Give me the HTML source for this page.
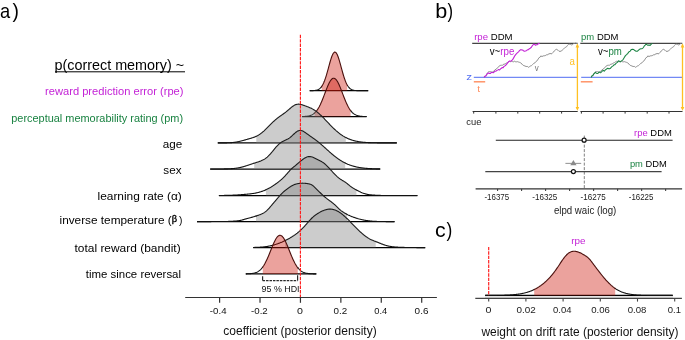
<!DOCTYPE html>
<html><head><meta charset="utf-8"><style>
html,body{margin:0;padding:0;background:#fff;}
svg{display:block;will-change:transform;}
text{font-family:"Liberation Sans", sans-serif;}
</style></head><body>
<svg width="685" height="340" viewBox="0 0 685 340">
<rect width="685" height="340" fill="#fff"/>
<text transform="translate(-0.07 17.5) scale(0.9053 1)" font-size="20.2" fill="#000" >a</text>
<text transform="translate(12.38 17.5) scale(0.9527 1)" font-size="20.2" fill="#000" >)</text>
<text transform="translate(54.47 69.7) scale(1.0378 1)" font-size="13.85" fill="#000" >p(correct memory) ~</text>
<line x1="55" y1="71.8" x2="185" y2="71.8" stroke="#000" stroke-width="1"/>
<text transform="translate(45.07 95) scale(0.9567 1)" font-size="11.64" fill="#c322d6" >reward prediction error (rpe)</text>
<text transform="translate(11.29 121.6) scale(0.9390 1)" font-size="11.64" fill="#198241" >perceptual memorability rating (pm)</text>
<text transform="translate(162.81 147.5) scale(1.0047 1)" font-size="11.64" fill="#000" >age</text>
<text transform="translate(163.37 173.6) scale(1.0025 1)" font-size="11.64" fill="#000" >sex</text>
<text transform="translate(97.5 200.1) scale(1.0245 1)" font-size="11.64" fill="#000" >learning rate (α)</text>
<text transform="translate(59.51 224.4) scale(1.0140 1)" font-size="11.64" fill="#000" >inverse temperature (</text>
<text transform="translate(171.66 222.2) scale(1.0902 1)" font-size="8.45" fill="#000" stroke="#000" stroke-width="0.35">β</text>
<text transform="translate(179.04 224.4) scale(0.8754 1)" font-size="11.64" fill="#000" >)</text>
<text transform="translate(74.52 252) scale(1.0262 1)" font-size="11.64" fill="#000" >total reward (bandit)</text>
<text transform="translate(85.83 278.1) scale(0.9826 1)" font-size="11.64" fill="#000" >time since reversal</text>
<path d="M309.7 90.7 H368.2" fill="none" stroke="#000" stroke-width="1.25"/>
<path d="M321.7 90.7 L321.7 86.4 L322.2 85.64 L322.7 84.78 L323.2 83.82 L323.7 82.75 L324.2 81.58 L324.7 80.29 L325.2 78.9 L325.7 77.41 L326.2 75.82 L326.7 74.15 L327.2 72.41 L327.7 70.61 L328.2 68.77 L328.7 66.92 L329.2 65.07 L329.7 63.24 L330.2 61.48 L330.7 59.79 L331.2 58.21 L331.7 56.77 L332.2 55.49 L332.7 54.38 L333.2 53.48 L333.7 52.79 L334.2 52.34 L334.7 52.12 L335.2 52.14 L335.7 52.41 L336.2 52.91 L336.7 53.64 L337.2 54.59 L337.7 55.73 L338.2 57.05 L338.7 58.52 L339.2 60.12 L339.7 61.82 L340.2 63.6 L340.7 65.43 L341.2 67.29 L341.7 69.14 L342.2 70.97 L342.7 72.76 L343.2 74.49 L343.7 76.15 L344.2 77.72 L344.7 79.19 L345.2 80.56 L345.7 81.82 L346.2 82.97 L346.7 84.02 L347.2 84.96 L347.2 90.7 Z" fill="rgb(206,22,10)" fill-opacity="0.4" stroke="none"/>
<path d="M309.7 90.69 L310.2 90.68 L310.7 90.68 L311.2 90.67 L311.7 90.66 L312.2 90.64 L312.7 90.62 L313.2 90.6 L313.7 90.57 L314.2 90.53 L314.7 90.47 L315.2 90.41 L315.7 90.33 L316.2 90.23 L316.7 90.11 L317.2 89.95 L317.7 89.77 L318.2 89.55 L318.7 89.28 L319.2 88.97 L319.7 88.6 L320.2 88.16 L320.7 87.66 L321.2 87.07 L321.7 86.4" fill="none" stroke="#111" stroke-width="1.1" stroke-linejoin="round"/>
<path d="M347.2 84.96 L347.7 85.8 L348.2 86.54 L348.7 87.2 L349.2 87.76 L349.7 88.26 L350.2 88.68 L350.7 89.04 L351.2 89.34 L351.7 89.6 L352.2 89.81 L352.7 89.99 L353.2 90.13 L353.7 90.25 L354.2 90.35 L354.7 90.42 L355.2 90.49 L355.7 90.53 L356.2 90.57 L356.7 90.6 L357.2 90.63 L357.7 90.64 L358.2 90.66 L358.7 90.67 L359.2 90.68 L359.7 90.68 L360.2 90.69 L360.7 90.69 L361.2 90.69 L361.7 90.7 L362.2 90.7 L362.7 90.7 L363.2 90.7 L363.7 90.7 L364.2 90.7 L364.7 90.7 L365.2 90.7 L365.7 90.7 L366.2 90.7 L366.7 90.7 L367.2 90.7 L367.7 90.7 L368.2 90.7" fill="none" stroke="#111" stroke-width="1.1" stroke-linejoin="round"/>
<path d="M321.2 87.07 L321.7 86.4 L322.2 85.64 L322.7 84.78 L323.2 83.82 L323.7 82.75 L324.2 81.58 L324.7 80.29 L325.2 78.9 L325.7 77.41 L326.2 75.82 L326.7 74.15 L327.2 72.41 L327.7 70.61 L328.2 68.77 L328.7 66.92 L329.2 65.07 L329.7 63.24 L330.2 61.48 L330.7 59.79 L331.2 58.21 L331.7 56.77 L332.2 55.49 L332.7 54.38 L333.2 53.48 L333.7 52.79 L334.2 52.34 L334.7 52.12 L335.2 52.14 L335.7 52.41 L336.2 52.91 L336.7 53.64 L337.2 54.59 L337.7 55.73 L338.2 57.05 L338.7 58.52 L339.2 60.12 L339.7 61.82 L340.2 63.6 L340.7 65.43 L341.2 67.29 L341.7 69.14 L342.2 70.97 L342.7 72.76 L343.2 74.49 L343.7 76.15 L344.2 77.72 L344.7 79.19 L345.2 80.56 L345.7 81.82 L346.2 82.97 L346.7 84.02 L347.2 84.96 L347.7 85.8" fill="none" stroke="#4a0f0c" stroke-width="1.1" stroke-linejoin="round"/>
<path d="M302.1 116.6 H366.6" fill="none" stroke="#000" stroke-width="1.25"/>
<path d="M314.6 116.6 L314.6 112.96 L315.1 112.49 L315.6 111.97 L316.1 111.4 L316.6 110.79 L317.1 110.12 L317.6 109.4 L318.1 108.62 L318.6 107.79 L319.1 106.9 L319.6 105.96 L320.1 104.97 L320.6 103.92 L321.1 102.82 L321.6 101.68 L322.1 100.49 L322.6 99.27 L323.1 98.01 L323.6 96.73 L324.1 95.42 L324.6 94.1 L325.1 92.78 L325.6 91.46 L326.1 90.15 L326.6 88.87 L327.1 87.61 L327.6 86.4 L328.1 85.24 L328.6 84.14 L329.1 83.1 L329.6 82.15 L330.1 81.28 L330.6 80.51 L331.1 79.84 L331.6 79.28 L332.1 78.83 L332.6 78.5 L333.1 78.29 L333.6 78.2 L334.1 78.24 L334.6 78.4 L335.1 78.68 L335.6 79.08 L336.1 79.6 L336.6 80.23 L337.1 80.96 L337.6 81.79 L338.1 82.71 L338.6 83.71 L339.1 84.79 L339.6 85.93 L340.1 87.12 L340.6 88.36 L341.1 89.64 L341.6 90.94 L342.1 92.25 L342.6 93.57 L343.1 94.89 L343.6 96.21 L344.1 97.5 L344.6 98.77 L345.1 100.01 L345.6 101.21 L346.1 102.37 L346.6 103.49 L347.1 104.55 L347.6 105.57 L348.1 106.53 L348.6 107.44 L349.1 108.3 L349.6 109.09 L350.1 109.84 L350.6 110.53 L350.6 116.6 Z" fill="rgb(206,22,10)" fill-opacity="0.4" stroke="none"/>
<path d="M302.1 116.54 L302.6 116.53 L303.1 116.51 L303.6 116.49 L304.1 116.47 L304.6 116.44 L305.1 116.4 L305.6 116.37 L306.1 116.32 L306.6 116.27 L307.1 116.2 L307.6 116.13 L308.1 116.04 L308.6 115.94 L309.1 115.83 L309.6 115.7 L310.1 115.55 L310.6 115.38 L311.1 115.18 L311.6 114.96 L312.1 114.71 L312.6 114.43 L313.1 114.12 L313.6 113.77 L314.1 113.39 L314.6 112.96" fill="none" stroke="#111" stroke-width="1.1" stroke-linejoin="round"/>
<path d="M350.6 110.53 L351.1 111.16 L351.6 111.75 L352.1 112.28 L352.6 112.77 L353.1 113.22 L353.6 113.62 L354.1 113.99 L354.6 114.31 L355.1 114.6 L355.6 114.86 L356.1 115.1 L356.6 115.3 L357.1 115.48 L357.6 115.64 L358.1 115.78 L358.6 115.9 L359.1 116 L359.6 116.09 L360.1 116.17 L360.6 116.24 L361.1 116.3 L361.6 116.35 L362.1 116.39 L362.6 116.43 L363.1 116.46 L363.6 116.48 L364.1 116.5 L364.6 116.52 L365.1 116.53 L365.6 116.55 L366.1 116.56 L366.6 116.56" fill="none" stroke="#111" stroke-width="1.1" stroke-linejoin="round"/>
<path d="M314.1 113.39 L314.6 112.96 L315.1 112.49 L315.6 111.97 L316.1 111.4 L316.6 110.79 L317.1 110.12 L317.6 109.4 L318.1 108.62 L318.6 107.79 L319.1 106.9 L319.6 105.96 L320.1 104.97 L320.6 103.92 L321.1 102.82 L321.6 101.68 L322.1 100.49 L322.6 99.27 L323.1 98.01 L323.6 96.73 L324.1 95.42 L324.6 94.1 L325.1 92.78 L325.6 91.46 L326.1 90.15 L326.6 88.87 L327.1 87.61 L327.6 86.4 L328.1 85.24 L328.6 84.14 L329.1 83.1 L329.6 82.15 L330.1 81.28 L330.6 80.51 L331.1 79.84 L331.6 79.28 L332.1 78.83 L332.6 78.5 L333.1 78.29 L333.6 78.2 L334.1 78.24 L334.6 78.4 L335.1 78.68 L335.6 79.08 L336.1 79.6 L336.6 80.23 L337.1 80.96 L337.6 81.79 L338.1 82.71 L338.6 83.71 L339.1 84.79 L339.6 85.93 L340.1 87.12 L340.6 88.36 L341.1 89.64 L341.6 90.94 L342.1 92.25 L342.6 93.57 L343.1 94.89 L343.6 96.21 L344.1 97.5 L344.6 98.77 L345.1 100.01 L345.6 101.21 L346.1 102.37 L346.6 103.49 L347.1 104.55 L347.6 105.57 L348.1 106.53 L348.6 107.44 L349.1 108.3 L349.6 109.09 L350.1 109.84 L350.6 110.53 L351.1 111.16" fill="none" stroke="#4a0f0c" stroke-width="1.1" stroke-linejoin="round"/>
<path d="M217.8 142.9 H396.8" fill="none" stroke="#000" stroke-width="1.25"/>
<path d="M256.3 142.9 L256.3 136.26 L256.8 136.02 L257.3 135.76 L257.8 135.49 L258.3 135.2 L258.8 134.9 L259.3 134.58 L259.8 134.25 L260.3 133.9 L260.8 133.54 L261.3 133.16 L261.8 132.77 L262.3 132.36 L262.8 131.94 L263.3 131.51 L263.8 131.07 L264.3 130.61 L264.8 130.14 L265.3 129.67 L265.8 129.18 L266.3 128.69 L266.8 128.19 L267.3 127.69 L267.8 127.19 L268.3 126.68 L268.8 126.17 L269.3 125.66 L269.8 125.15 L270.3 124.65 L270.8 124.14 L271.3 123.65 L271.8 123.15 L272.3 122.67 L272.8 122.19 L273.3 121.71 L273.8 121.25 L274.3 120.79 L274.8 120.35 L275.3 119.91 L275.8 119.48 L276.3 119.07 L276.8 118.66 L277.3 118.26 L277.8 117.87 L278.3 117.49 L278.8 117.11 L279.3 116.75 L279.8 116.39 L280.3 116.03 L280.8 115.68 L281.3 115.33 L281.8 114.98 L282.3 114.63 L282.8 114.28 L283.3 113.93 L283.8 113.57 L284.3 113.2 L284.8 112.83 L285.3 112.45 L285.8 112.06 L286.3 111.67 L286.8 111.26 L287.3 110.85 L287.8 110.43 L288.3 110 L288.8 109.57 L289.3 109.14 L289.8 108.71 L290.3 108.28 L290.8 107.85 L291.3 107.43 L291.8 107.03 L292.3 106.64 L292.8 106.28 L293.3 105.93 L293.8 105.61 L294.3 105.32 L294.8 105.05 L295.3 104.83 L295.8 104.63 L296.3 104.47 L296.8 104.34 L297.3 104.25 L297.8 104.19 L298.3 104.17 L298.8 104.17 L299.3 104.21 L299.8 104.27 L300.3 104.35 L300.8 104.45 L301.3 104.57 L301.8 104.71 L302.3 104.86 L302.8 105.02 L303.3 105.18 L303.8 105.36 L304.3 105.53 L304.8 105.71 L305.3 105.9 L305.8 106.08 L306.3 106.27 L306.8 106.46 L307.3 106.65 L307.8 106.84 L308.3 107.04 L308.8 107.24 L309.3 107.45 L309.8 107.67 L310.3 107.89 L310.8 108.12 L311.3 108.36 L311.8 108.61 L312.3 108.87 L312.8 109.14 L313.3 109.43 L313.8 109.73 L314.3 110.04 L314.8 110.36 L315.3 110.7 L315.8 111.05 L316.3 111.42 L316.8 111.8 L317.3 112.19 L317.8 112.59 L318.3 113.01 L318.8 113.43 L319.3 113.87 L319.8 114.32 L320.3 114.78 L320.8 115.25 L321.3 115.73 L321.8 116.21 L322.3 116.7 L322.8 117.2 L323.3 117.71 L323.8 118.22 L324.3 118.74 L324.8 119.26 L325.3 119.78 L325.8 120.3 L326.3 120.83 L326.8 121.36 L327.3 121.89 L327.8 122.42 L328.3 122.95 L328.8 123.47 L329.3 124 L329.8 124.52 L330.3 125.04 L330.8 125.55 L331.3 126.06 L331.8 126.57 L332.3 127.07 L332.8 127.57 L333.3 128.05 L333.8 128.54 L334.3 129.01 L334.8 129.48 L335.3 129.94 L335.8 130.39 L336.3 130.84 L336.8 131.27 L337.3 131.7 L337.8 132.12 L338.3 132.53 L338.8 132.93 L339.3 133.32 L339.8 133.7 L340.3 134.07 L340.8 134.43 L341.3 134.79 L341.8 135.13 L342.3 135.46 L342.8 135.78 L343.3 136.1 L343.8 136.4 L344.3 136.69 L344.8 136.98 L345.3 137.25 L345.8 137.52 L345.8 142.9 Z" fill="rgb(128,128,128)" fill-opacity="0.4" stroke="none"/>
<path d="M217.8 142.9 L218.3 142.9 L218.8 142.9 L219.3 142.89 L219.8 142.89 L220.3 142.89 L220.8 142.89 L221.3 142.89 L221.8 142.89 L222.3 142.88 L222.8 142.88 L223.3 142.88 L223.8 142.87 L224.3 142.87 L224.8 142.86 L225.3 142.86 L225.8 142.85 L226.3 142.84 L226.8 142.83 L227.3 142.82 L227.8 142.8 L228.3 142.78 L228.8 142.77 L229.3 142.75 L229.8 142.72 L230.3 142.69 L230.8 142.66 L231.3 142.63 L231.8 142.59 L232.3 142.55 L232.8 142.51 L233.3 142.46 L233.8 142.4 L234.3 142.34 L234.8 142.28 L235.3 142.21 L235.8 142.13 L236.3 142.05 L236.8 141.96 L237.3 141.87 L237.8 141.77 L238.3 141.67 L238.8 141.56 L239.3 141.45 L239.8 141.33 L240.3 141.21 L240.8 141.09 L241.3 140.96 L241.8 140.83 L242.3 140.69 L242.8 140.56 L243.3 140.42 L243.8 140.28 L244.3 140.14 L244.8 140 L245.3 139.86 L245.8 139.71 L246.3 139.57 L246.8 139.43 L247.3 139.29 L247.8 139.15 L248.3 139.01 L248.8 138.87 L249.3 138.72 L249.8 138.58 L250.3 138.44 L250.8 138.29 L251.3 138.14 L251.8 137.98 L252.3 137.82 L252.8 137.66 L253.3 137.49 L253.8 137.31 L254.3 137.12 L254.8 136.92 L255.3 136.71 L255.8 136.49 L256.3 136.26" fill="none" stroke="#111" stroke-width="1.1" stroke-linejoin="round"/>
<path d="M345.8 137.52 L346.3 137.77 L346.8 138.02 L347.3 138.26 L347.8 138.49 L348.3 138.71 L348.8 138.92 L349.3 139.12 L349.8 139.32 L350.3 139.51 L350.8 139.69 L351.3 139.86 L351.8 140.02 L352.3 140.18 L352.8 140.33 L353.3 140.48 L353.8 140.61 L354.3 140.74 L354.8 140.87 L355.3 140.99 L355.8 141.1 L356.3 141.21 L356.8 141.31 L357.3 141.41 L357.8 141.5 L358.3 141.58 L358.8 141.67 L359.3 141.74 L359.8 141.82 L360.3 141.89 L360.8 141.95 L361.3 142.01 L361.8 142.07 L362.3 142.13 L362.8 142.18 L363.3 142.23 L363.8 142.27 L364.3 142.32 L364.8 142.36 L365.3 142.4 L365.8 142.43 L366.3 142.47 L366.8 142.5 L367.3 142.53 L367.8 142.55 L368.3 142.58 L368.8 142.6 L369.3 142.62 L369.8 142.65 L370.3 142.66 L370.8 142.68 L371.3 142.7 L371.8 142.72 L372.3 142.73 L372.8 142.74 L373.3 142.76 L373.8 142.77 L374.3 142.78 L374.8 142.79 L375.3 142.8 L375.8 142.81 L376.3 142.81 L376.8 142.82 L377.3 142.83 L377.8 142.83 L378.3 142.84 L378.8 142.84 L379.3 142.85 L379.8 142.85 L380.3 142.86 L380.8 142.86 L381.3 142.86 L381.8 142.87 L382.3 142.87 L382.8 142.87 L383.3 142.88 L383.8 142.88 L384.3 142.88 L384.8 142.88 L385.3 142.88 L385.8 142.89 L386.3 142.89 L386.8 142.89 L387.3 142.89 L387.8 142.89 L388.3 142.89 L388.8 142.89 L389.3 142.89 L389.8 142.89 L390.3 142.89 L390.8 142.89 L391.3 142.9 L391.8 142.9 L392.3 142.9 L392.8 142.9 L393.3 142.9 L393.8 142.9 L394.3 142.9 L394.8 142.9 L395.3 142.9 L395.8 142.9 L396.3 142.9 L396.8 142.9" fill="none" stroke="#111" stroke-width="1.1" stroke-linejoin="round"/>
<path d="M255.8 136.49 L256.3 136.26 L256.8 136.02 L257.3 135.76 L257.8 135.49 L258.3 135.2 L258.8 134.9 L259.3 134.58 L259.8 134.25 L260.3 133.9 L260.8 133.54 L261.3 133.16 L261.8 132.77 L262.3 132.36 L262.8 131.94 L263.3 131.51 L263.8 131.07 L264.3 130.61 L264.8 130.14 L265.3 129.67 L265.8 129.18 L266.3 128.69 L266.8 128.19 L267.3 127.69 L267.8 127.19 L268.3 126.68 L268.8 126.17 L269.3 125.66 L269.8 125.15 L270.3 124.65 L270.8 124.14 L271.3 123.65 L271.8 123.15 L272.3 122.67 L272.8 122.19 L273.3 121.71 L273.8 121.25 L274.3 120.79 L274.8 120.35 L275.3 119.91 L275.8 119.48 L276.3 119.07 L276.8 118.66 L277.3 118.26 L277.8 117.87 L278.3 117.49 L278.8 117.11 L279.3 116.75 L279.8 116.39 L280.3 116.03 L280.8 115.68 L281.3 115.33 L281.8 114.98 L282.3 114.63 L282.8 114.28 L283.3 113.93 L283.8 113.57 L284.3 113.2 L284.8 112.83 L285.3 112.45 L285.8 112.06 L286.3 111.67 L286.8 111.26 L287.3 110.85 L287.8 110.43 L288.3 110 L288.8 109.57 L289.3 109.14 L289.8 108.71 L290.3 108.28 L290.8 107.85 L291.3 107.43 L291.8 107.03 L292.3 106.64 L292.8 106.28 L293.3 105.93 L293.8 105.61 L294.3 105.32 L294.8 105.05 L295.3 104.83 L295.8 104.63 L296.3 104.47 L296.8 104.34 L297.3 104.25 L297.8 104.19 L298.3 104.17 L298.8 104.17 L299.3 104.21 L299.8 104.27 L300.3 104.35 L300.8 104.45 L301.3 104.57 L301.8 104.71 L302.3 104.86 L302.8 105.02 L303.3 105.18 L303.8 105.36 L304.3 105.53 L304.8 105.71 L305.3 105.9 L305.8 106.08 L306.3 106.27 L306.8 106.46 L307.3 106.65 L307.8 106.84 L308.3 107.04 L308.8 107.24 L309.3 107.45 L309.8 107.67 L310.3 107.89 L310.8 108.12 L311.3 108.36 L311.8 108.61 L312.3 108.87 L312.8 109.14 L313.3 109.43 L313.8 109.73 L314.3 110.04 L314.8 110.36 L315.3 110.7 L315.8 111.05 L316.3 111.42 L316.8 111.8 L317.3 112.19 L317.8 112.59 L318.3 113.01 L318.8 113.43 L319.3 113.87 L319.8 114.32 L320.3 114.78 L320.8 115.25 L321.3 115.73 L321.8 116.21 L322.3 116.7 L322.8 117.2 L323.3 117.71 L323.8 118.22 L324.3 118.74 L324.8 119.26 L325.3 119.78 L325.8 120.3 L326.3 120.83 L326.8 121.36 L327.3 121.89 L327.8 122.42 L328.3 122.95 L328.8 123.47 L329.3 124 L329.8 124.52 L330.3 125.04 L330.8 125.55 L331.3 126.06 L331.8 126.57 L332.3 127.07 L332.8 127.57 L333.3 128.05 L333.8 128.54 L334.3 129.01 L334.8 129.48 L335.3 129.94 L335.8 130.39 L336.3 130.84 L336.8 131.27 L337.3 131.7 L337.8 132.12 L338.3 132.53 L338.8 132.93 L339.3 133.32 L339.8 133.7 L340.3 134.07 L340.8 134.43 L341.3 134.79 L341.8 135.13 L342.3 135.46 L342.8 135.78 L343.3 136.1 L343.8 136.4 L344.3 136.69 L344.8 136.98 L345.3 137.25 L345.8 137.52 L346.3 137.77" fill="none" stroke="#1c1c1c" stroke-width="1.1" stroke-linejoin="round"/>
<path d="M210.2 169 H380.2" fill="none" stroke="#000" stroke-width="1.25"/>
<path d="M254.2 169 L254.2 163.19 L254.7 163.03 L255.2 162.87 L255.7 162.71 L256.2 162.55 L256.7 162.39 L257.2 162.23 L257.7 162.07 L258.2 161.91 L258.7 161.74 L259.2 161.56 L259.7 161.38 L260.2 161.2 L260.7 161 L261.2 160.8 L261.7 160.58 L262.2 160.35 L262.7 160.11 L263.2 159.85 L263.7 159.58 L264.2 159.29 L264.7 158.98 L265.2 158.65 L265.7 158.3 L266.2 157.92 L266.7 157.53 L267.2 157.11 L267.7 156.66 L268.2 156.2 L268.7 155.71 L269.2 155.2 L269.7 154.67 L270.2 154.12 L270.7 153.55 L271.2 152.97 L271.7 152.37 L272.2 151.76 L272.7 151.15 L273.2 150.53 L273.7 149.91 L274.2 149.29 L274.7 148.67 L275.2 148.07 L275.7 147.47 L276.2 146.89 L276.7 146.33 L277.2 145.79 L277.7 145.27 L278.2 144.78 L278.7 144.31 L279.2 143.87 L279.7 143.45 L280.2 143.07 L280.7 142.7 L281.2 142.37 L281.7 142.05 L282.2 141.76 L282.7 141.48 L283.2 141.23 L283.7 140.98 L284.2 140.74 L284.7 140.51 L285.2 140.28 L285.7 140.05 L286.2 139.81 L286.7 139.56 L287.2 139.3 L287.7 139.03 L288.2 138.74 L288.7 138.42 L289.2 138.09 L289.7 137.74 L290.2 137.36 L290.7 136.96 L291.2 136.54 L291.7 136.1 L292.2 135.65 L292.7 135.18 L293.2 134.71 L293.7 134.24 L294.2 133.77 L294.7 133.31 L295.2 132.87 L295.7 132.45 L296.2 132.05 L296.7 131.69 L297.2 131.37 L297.7 131.09 L298.2 130.86 L298.7 130.68 L299.2 130.55 L299.7 130.47 L300.2 130.45 L300.7 130.48 L301.2 130.55 L301.7 130.68 L302.2 130.84 L302.7 131.05 L303.2 131.29 L303.7 131.56 L304.2 131.86 L304.7 132.18 L305.2 132.51 L305.7 132.86 L306.2 133.22 L306.7 133.58 L307.2 133.94 L307.7 134.31 L308.2 134.67 L308.7 135.03 L309.2 135.39 L309.7 135.75 L310.2 136.1 L310.7 136.45 L311.2 136.8 L311.7 137.14 L312.2 137.49 L312.7 137.84 L313.2 138.19 L313.7 138.54 L314.2 138.89 L314.7 139.25 L315.2 139.61 L315.7 139.98 L316.2 140.35 L316.7 140.73 L317.2 141.12 L317.7 141.51 L318.2 141.91 L318.7 142.31 L319.2 142.72 L319.7 143.14 L320.2 143.56 L320.7 143.99 L321.2 144.42 L321.7 144.85 L322.2 145.29 L322.7 145.74 L323.2 146.18 L323.7 146.63 L324.2 147.08 L324.7 147.53 L325.2 147.99 L325.7 148.44 L326.2 148.9 L326.7 149.35 L327.2 149.8 L327.7 150.25 L328.2 150.7 L328.7 151.15 L329.2 151.6 L329.7 152.04 L330.2 152.48 L330.7 152.92 L331.2 153.35 L331.7 153.78 L332.2 154.21 L332.7 154.63 L333.2 155.04 L333.7 155.45 L334.2 155.86 L334.7 156.26 L335.2 156.65 L335.7 157.04 L336.2 157.42 L336.7 157.79 L337.2 158.16 L337.7 158.52 L338.2 158.87 L338.7 159.22 L339.2 159.56 L339.7 159.89 L340.2 160.21 L340.7 160.53 L341.2 160.84 L341.7 161.14 L342.2 161.44 L342.7 161.73 L343.2 162.01 L343.7 162.28 L344.2 162.54 L344.7 162.8 L345.2 163.05 L345.2 169 Z" fill="rgb(128,128,128)" fill-opacity="0.4" stroke="none"/>
<path d="M210.2 168.99 L210.7 168.99 L211.2 168.99 L211.7 168.99 L212.2 168.99 L212.7 168.99 L213.2 168.99 L213.7 168.99 L214.2 168.99 L214.7 168.99 L215.2 168.99 L215.7 168.98 L216.2 168.98 L216.7 168.98 L217.2 168.98 L217.7 168.98 L218.2 168.97 L218.7 168.97 L219.2 168.97 L219.7 168.97 L220.2 168.96 L220.7 168.96 L221.2 168.95 L221.7 168.95 L222.2 168.94 L222.7 168.94 L223.2 168.93 L223.7 168.93 L224.2 168.92 L224.7 168.91 L225.2 168.9 L225.7 168.89 L226.2 168.88 L226.7 168.86 L227.2 168.85 L227.7 168.84 L228.2 168.82 L228.7 168.8 L229.2 168.78 L229.7 168.76 L230.2 168.73 L230.7 168.7 L231.2 168.67 L231.7 168.64 L232.2 168.61 L232.7 168.57 L233.2 168.52 L233.7 168.48 L234.2 168.43 L234.7 168.38 L235.2 168.32 L235.7 168.26 L236.2 168.19 L236.7 168.12 L237.2 168.04 L237.7 167.96 L238.2 167.88 L238.7 167.79 L239.2 167.69 L239.7 167.59 L240.2 167.48 L240.7 167.37 L241.2 167.26 L241.7 167.13 L242.2 167.01 L242.7 166.87 L243.2 166.74 L243.7 166.6 L244.2 166.45 L244.7 166.3 L245.2 166.15 L245.7 166 L246.2 165.84 L246.7 165.68 L247.2 165.51 L247.7 165.35 L248.2 165.18 L248.7 165.01 L249.2 164.84 L249.7 164.68 L250.2 164.51 L250.7 164.34 L251.2 164.17 L251.7 164.01 L252.2 163.84 L252.7 163.68 L253.2 163.51 L253.7 163.35 L254.2 163.19" fill="none" stroke="#111" stroke-width="1.1" stroke-linejoin="round"/>
<path d="M345.2 163.05 L345.7 163.3 L346.2 163.53 L346.7 163.76 L347.2 163.98 L347.7 164.2 L348.2 164.4 L348.7 164.61 L349.2 164.8 L349.7 164.99 L350.2 165.17 L350.7 165.34 L351.2 165.51 L351.7 165.68 L352.2 165.83 L352.7 165.98 L353.2 166.13 L353.7 166.27 L354.2 166.4 L354.7 166.53 L355.2 166.65 L355.7 166.77 L356.2 166.89 L356.7 166.99 L357.2 167.1 L357.7 167.2 L358.2 167.29 L358.7 167.38 L359.2 167.47 L359.7 167.55 L360.2 167.63 L360.7 167.71 L361.2 167.78 L361.7 167.85 L362.2 167.91 L362.7 167.98 L363.2 168.03 L363.7 168.09 L364.2 168.14 L364.7 168.19 L365.2 168.24 L365.7 168.29 L366.2 168.33 L366.7 168.37 L367.2 168.41 L367.7 168.45 L368.2 168.48 L368.7 168.51 L369.2 168.54 L369.7 168.57 L370.2 168.6 L370.7 168.63 L371.2 168.65 L371.7 168.67 L372.2 168.69 L372.7 168.71 L373.2 168.73 L373.7 168.75 L374.2 168.77 L374.7 168.78 L375.2 168.8 L375.7 168.81 L376.2 168.83 L376.7 168.84 L377.2 168.85 L377.7 168.86 L378.2 168.87 L378.7 168.88 L379.2 168.89 L379.7 168.9 L380.2 168.9" fill="none" stroke="#111" stroke-width="1.1" stroke-linejoin="round"/>
<path d="M253.7 163.35 L254.2 163.19 L254.7 163.03 L255.2 162.87 L255.7 162.71 L256.2 162.55 L256.7 162.39 L257.2 162.23 L257.7 162.07 L258.2 161.91 L258.7 161.74 L259.2 161.56 L259.7 161.38 L260.2 161.2 L260.7 161 L261.2 160.8 L261.7 160.58 L262.2 160.35 L262.7 160.11 L263.2 159.85 L263.7 159.58 L264.2 159.29 L264.7 158.98 L265.2 158.65 L265.7 158.3 L266.2 157.92 L266.7 157.53 L267.2 157.11 L267.7 156.66 L268.2 156.2 L268.7 155.71 L269.2 155.2 L269.7 154.67 L270.2 154.12 L270.7 153.55 L271.2 152.97 L271.7 152.37 L272.2 151.76 L272.7 151.15 L273.2 150.53 L273.7 149.91 L274.2 149.29 L274.7 148.67 L275.2 148.07 L275.7 147.47 L276.2 146.89 L276.7 146.33 L277.2 145.79 L277.7 145.27 L278.2 144.78 L278.7 144.31 L279.2 143.87 L279.7 143.45 L280.2 143.07 L280.7 142.7 L281.2 142.37 L281.7 142.05 L282.2 141.76 L282.7 141.48 L283.2 141.23 L283.7 140.98 L284.2 140.74 L284.7 140.51 L285.2 140.28 L285.7 140.05 L286.2 139.81 L286.7 139.56 L287.2 139.3 L287.7 139.03 L288.2 138.74 L288.7 138.42 L289.2 138.09 L289.7 137.74 L290.2 137.36 L290.7 136.96 L291.2 136.54 L291.7 136.1 L292.2 135.65 L292.7 135.18 L293.2 134.71 L293.7 134.24 L294.2 133.77 L294.7 133.31 L295.2 132.87 L295.7 132.45 L296.2 132.05 L296.7 131.69 L297.2 131.37 L297.7 131.09 L298.2 130.86 L298.7 130.68 L299.2 130.55 L299.7 130.47 L300.2 130.45 L300.7 130.48 L301.2 130.55 L301.7 130.68 L302.2 130.84 L302.7 131.05 L303.2 131.29 L303.7 131.56 L304.2 131.86 L304.7 132.18 L305.2 132.51 L305.7 132.86 L306.2 133.22 L306.7 133.58 L307.2 133.94 L307.7 134.31 L308.2 134.67 L308.7 135.03 L309.2 135.39 L309.7 135.75 L310.2 136.1 L310.7 136.45 L311.2 136.8 L311.7 137.14 L312.2 137.49 L312.7 137.84 L313.2 138.19 L313.7 138.54 L314.2 138.89 L314.7 139.25 L315.2 139.61 L315.7 139.98 L316.2 140.35 L316.7 140.73 L317.2 141.12 L317.7 141.51 L318.2 141.91 L318.7 142.31 L319.2 142.72 L319.7 143.14 L320.2 143.56 L320.7 143.99 L321.2 144.42 L321.7 144.85 L322.2 145.29 L322.7 145.74 L323.2 146.18 L323.7 146.63 L324.2 147.08 L324.7 147.53 L325.2 147.99 L325.7 148.44 L326.2 148.9 L326.7 149.35 L327.2 149.8 L327.7 150.25 L328.2 150.7 L328.7 151.15 L329.2 151.6 L329.7 152.04 L330.2 152.48 L330.7 152.92 L331.2 153.35 L331.7 153.78 L332.2 154.21 L332.7 154.63 L333.2 155.04 L333.7 155.45 L334.2 155.86 L334.7 156.26 L335.2 156.65 L335.7 157.04 L336.2 157.42 L336.7 157.79 L337.2 158.16 L337.7 158.52 L338.2 158.87 L338.7 159.22 L339.2 159.56 L339.7 159.89 L340.2 160.21 L340.7 160.53 L341.2 160.84 L341.7 161.14 L342.2 161.44 L342.7 161.73 L343.2 162.01 L343.7 162.28 L344.2 162.54 L344.7 162.8 L345.2 163.05 L345.7 163.3" fill="none" stroke="#1c1c1c" stroke-width="1.1" stroke-linejoin="round"/>
<path d="M218.9 195.5 H417.4" fill="none" stroke="#000" stroke-width="1.25"/>
<path d="M265.9 195.5 L265.9 189.79 L266.4 189.56 L266.9 189.32 L267.4 189.08 L267.9 188.83 L268.4 188.57 L268.9 188.3 L269.4 188.03 L269.9 187.75 L270.4 187.47 L270.9 187.17 L271.4 186.87 L271.9 186.56 L272.4 186.24 L272.9 185.91 L273.4 185.58 L273.9 185.24 L274.4 184.89 L274.9 184.54 L275.4 184.18 L275.9 183.82 L276.4 183.46 L276.9 183.1 L277.4 182.73 L277.9 182.36 L278.4 181.98 L278.9 181.59 L279.4 181.19 L279.9 180.79 L280.4 180.37 L280.9 179.95 L281.4 179.51 L281.9 179.06 L282.4 178.59 L282.9 178.12 L283.4 177.63 L283.9 177.12 L284.4 176.6 L284.9 176.07 L285.4 175.53 L285.9 174.98 L286.4 174.42 L286.9 173.85 L287.4 173.28 L287.9 172.71 L288.4 172.14 L288.9 171.57 L289.4 171.01 L289.9 170.46 L290.4 169.93 L290.9 169.43 L291.4 168.94 L291.9 168.48 L292.4 168.03 L292.9 167.61 L293.4 167.19 L293.9 166.78 L294.4 166.37 L294.9 165.97 L295.4 165.55 L295.9 165.14 L296.4 164.72 L296.9 164.29 L297.4 163.87 L297.9 163.44 L298.4 163.01 L298.9 162.59 L299.4 162.16 L299.9 161.74 L300.4 161.32 L300.9 160.9 L301.4 160.49 L301.9 160.09 L302.4 159.7 L302.9 159.31 L303.4 158.94 L303.9 158.59 L304.4 158.25 L304.9 157.93 L305.4 157.65 L305.9 157.39 L306.4 157.17 L306.9 156.98 L307.4 156.83 L307.9 156.71 L308.4 156.63 L308.9 156.58 L309.4 156.57 L309.9 156.58 L310.4 156.63 L310.9 156.71 L311.4 156.81 L311.9 156.94 L312.4 157.1 L312.9 157.28 L313.4 157.48 L313.9 157.71 L314.4 157.96 L314.9 158.22 L315.4 158.49 L315.9 158.76 L316.4 159.03 L316.9 159.29 L317.4 159.55 L317.9 159.8 L318.4 160.04 L318.9 160.29 L319.4 160.53 L319.9 160.78 L320.4 161.03 L320.9 161.29 L321.4 161.57 L321.9 161.85 L322.4 162.15 L322.9 162.47 L323.4 162.8 L323.9 163.16 L324.4 163.55 L324.9 163.96 L325.4 164.4 L325.9 164.86 L326.4 165.34 L326.9 165.83 L327.4 166.34 L327.9 166.86 L328.4 167.39 L328.9 167.92 L329.4 168.47 L329.9 169.01 L330.4 169.56 L330.9 170.11 L331.4 170.65 L331.9 171.2 L332.4 171.75 L332.9 172.29 L333.4 172.83 L333.9 173.36 L334.4 173.89 L334.9 174.41 L335.4 174.92 L335.9 175.42 L336.4 175.9 L336.9 176.37 L337.4 176.83 L337.9 177.26 L338.4 177.68 L338.9 178.07 L339.4 178.45 L339.9 178.82 L340.4 179.17 L340.9 179.5 L341.4 179.82 L341.9 180.13 L342.4 180.44 L342.9 180.74 L343.4 181.04 L343.9 181.34 L344.4 181.66 L344.9 181.98 L345.4 182.32 L345.9 182.67 L346.4 183.03 L346.9 183.41 L347.4 183.8 L347.9 184.2 L348.4 184.61 L348.9 185.02 L349.4 185.42 L349.9 185.81 L350.4 186.2 L350.9 186.57 L351.4 186.93 L351.9 187.28 L352.4 187.61 L352.9 187.94 L353.4 188.25 L353.9 188.56 L354.4 188.86 L354.9 189.15 L355.4 189.43 L355.9 189.71 L356.4 189.99 L356.4 195.5 Z" fill="rgb(128,128,128)" fill-opacity="0.4" stroke="none"/>
<path d="M218.9 195.5 L219.4 195.49 L219.9 195.49 L220.4 195.49 L220.9 195.48 L221.4 195.48 L221.9 195.47 L222.4 195.46 L222.9 195.45 L223.4 195.44 L223.9 195.43 L224.4 195.42 L224.9 195.41 L225.4 195.4 L225.9 195.39 L226.4 195.37 L226.9 195.36 L227.4 195.35 L227.9 195.33 L228.4 195.32 L228.9 195.3 L229.4 195.28 L229.9 195.27 L230.4 195.25 L230.9 195.24 L231.4 195.22 L231.9 195.2 L232.4 195.18 L232.9 195.16 L233.4 195.14 L233.9 195.12 L234.4 195.1 L234.9 195.07 L235.4 195.05 L235.9 195.02 L236.4 194.99 L236.9 194.96 L237.4 194.93 L237.9 194.9 L238.4 194.87 L238.9 194.84 L239.4 194.8 L239.9 194.77 L240.4 194.73 L240.9 194.7 L241.4 194.66 L241.9 194.62 L242.4 194.58 L242.9 194.54 L243.4 194.5 L243.9 194.46 L244.4 194.42 L244.9 194.38 L245.4 194.34 L245.9 194.29 L246.4 194.25 L246.9 194.2 L247.4 194.16 L247.9 194.11 L248.4 194.06 L248.9 194.01 L249.4 193.95 L249.9 193.9 L250.4 193.84 L250.9 193.78 L251.4 193.72 L251.9 193.65 L252.4 193.58 L252.9 193.51 L253.4 193.44 L253.9 193.36 L254.4 193.28 L254.9 193.19 L255.4 193.1 L255.9 193 L256.4 192.89 L256.9 192.78 L257.4 192.66 L257.9 192.54 L258.4 192.41 L258.9 192.28 L259.4 192.14 L259.9 191.99 L260.4 191.85 L260.9 191.69 L261.4 191.53 L261.9 191.37 L262.4 191.2 L262.9 191.02 L263.4 190.83 L263.9 190.64 L264.4 190.44 L264.9 190.23 L265.4 190.01 L265.9 189.79" fill="none" stroke="#111" stroke-width="1.1" stroke-linejoin="round"/>
<path d="M356.4 189.99 L356.9 190.26 L357.4 190.53 L357.9 190.8 L358.4 191.06 L358.9 191.32 L359.4 191.58 L359.9 191.82 L360.4 192.06 L360.9 192.29 L361.4 192.5 L361.9 192.71 L362.4 192.9 L362.9 193.08 L363.4 193.26 L363.9 193.42 L364.4 193.57 L364.9 193.72 L365.4 193.86 L365.9 194 L366.4 194.12 L366.9 194.24 L367.4 194.35 L367.9 194.45 L368.4 194.54 L368.9 194.62 L369.4 194.69 L369.9 194.76 L370.4 194.81 L370.9 194.86 L371.4 194.9 L371.9 194.95 L372.4 194.99 L372.9 195.02 L373.4 195.06 L373.9 195.09 L374.4 195.13 L374.9 195.16 L375.4 195.19 L375.9 195.22 L376.4 195.25 L376.9 195.27 L377.4 195.3 L377.9 195.32 L378.4 195.34 L378.9 195.36 L379.4 195.38 L379.9 195.4 L380.4 195.42 L380.9 195.43 L381.4 195.45 L381.9 195.46 L382.4 195.47 L382.9 195.48 L383.4 195.48 L383.9 195.49 L384.4 195.49 L384.9 195.5 L385.4 195.5 L385.9 195.5 L386.4 195.5 L386.9 195.5 L387.4 195.5 L387.9 195.5 L388.4 195.5 L388.9 195.5 L389.4 195.5 L389.9 195.5 L390.4 195.5 L390.9 195.5 L391.4 195.5 L391.9 195.5 L392.4 195.5 L392.9 195.5 L393.4 195.5 L393.9 195.5 L394.4 195.5 L394.9 195.5 L395.4 195.5 L395.9 195.5 L396.4 195.5 L396.9 195.5 L397.4 195.5 L397.9 195.5 L398.4 195.5 L398.9 195.5 L399.4 195.5 L399.9 195.5 L400.4 195.5 L400.9 195.5 L401.4 195.5 L401.9 195.5 L402.4 195.5 L402.9 195.5 L403.4 195.5 L403.9 195.5 L404.4 195.5 L404.9 195.5 L405.4 195.5 L405.9 195.5 L406.4 195.5 L406.9 195.5 L407.4 195.5 L407.9 195.5 L408.4 195.5 L408.9 195.5 L409.4 195.5 L409.9 195.5 L410.4 195.5 L410.9 195.5 L411.4 195.5 L411.9 195.5 L412.4 195.5 L412.9 195.5 L413.4 195.5 L413.9 195.5 L414.4 195.5 L414.9 195.5 L415.4 195.5 L415.9 195.5 L416.4 195.5 L416.9 195.5 L417.4 195.5" fill="none" stroke="#111" stroke-width="1.1" stroke-linejoin="round"/>
<path d="M265.4 190.01 L265.9 189.79 L266.4 189.56 L266.9 189.32 L267.4 189.08 L267.9 188.83 L268.4 188.57 L268.9 188.3 L269.4 188.03 L269.9 187.75 L270.4 187.47 L270.9 187.17 L271.4 186.87 L271.9 186.56 L272.4 186.24 L272.9 185.91 L273.4 185.58 L273.9 185.24 L274.4 184.89 L274.9 184.54 L275.4 184.18 L275.9 183.82 L276.4 183.46 L276.9 183.1 L277.4 182.73 L277.9 182.36 L278.4 181.98 L278.9 181.59 L279.4 181.19 L279.9 180.79 L280.4 180.37 L280.9 179.95 L281.4 179.51 L281.9 179.06 L282.4 178.59 L282.9 178.12 L283.4 177.63 L283.9 177.12 L284.4 176.6 L284.9 176.07 L285.4 175.53 L285.9 174.98 L286.4 174.42 L286.9 173.85 L287.4 173.28 L287.9 172.71 L288.4 172.14 L288.9 171.57 L289.4 171.01 L289.9 170.46 L290.4 169.93 L290.9 169.43 L291.4 168.94 L291.9 168.48 L292.4 168.03 L292.9 167.61 L293.4 167.19 L293.9 166.78 L294.4 166.37 L294.9 165.97 L295.4 165.55 L295.9 165.14 L296.4 164.72 L296.9 164.29 L297.4 163.87 L297.9 163.44 L298.4 163.01 L298.9 162.59 L299.4 162.16 L299.9 161.74 L300.4 161.32 L300.9 160.9 L301.4 160.49 L301.9 160.09 L302.4 159.7 L302.9 159.31 L303.4 158.94 L303.9 158.59 L304.4 158.25 L304.9 157.93 L305.4 157.65 L305.9 157.39 L306.4 157.17 L306.9 156.98 L307.4 156.83 L307.9 156.71 L308.4 156.63 L308.9 156.58 L309.4 156.57 L309.9 156.58 L310.4 156.63 L310.9 156.71 L311.4 156.81 L311.9 156.94 L312.4 157.1 L312.9 157.28 L313.4 157.48 L313.9 157.71 L314.4 157.96 L314.9 158.22 L315.4 158.49 L315.9 158.76 L316.4 159.03 L316.9 159.29 L317.4 159.55 L317.9 159.8 L318.4 160.04 L318.9 160.29 L319.4 160.53 L319.9 160.78 L320.4 161.03 L320.9 161.29 L321.4 161.57 L321.9 161.85 L322.4 162.15 L322.9 162.47 L323.4 162.8 L323.9 163.16 L324.4 163.55 L324.9 163.96 L325.4 164.4 L325.9 164.86 L326.4 165.34 L326.9 165.83 L327.4 166.34 L327.9 166.86 L328.4 167.39 L328.9 167.92 L329.4 168.47 L329.9 169.01 L330.4 169.56 L330.9 170.11 L331.4 170.65 L331.9 171.2 L332.4 171.75 L332.9 172.29 L333.4 172.83 L333.9 173.36 L334.4 173.89 L334.9 174.41 L335.4 174.92 L335.9 175.42 L336.4 175.9 L336.9 176.37 L337.4 176.83 L337.9 177.26 L338.4 177.68 L338.9 178.07 L339.4 178.45 L339.9 178.82 L340.4 179.17 L340.9 179.5 L341.4 179.82 L341.9 180.13 L342.4 180.44 L342.9 180.74 L343.4 181.04 L343.9 181.34 L344.4 181.66 L344.9 181.98 L345.4 182.32 L345.9 182.67 L346.4 183.03 L346.9 183.41 L347.4 183.8 L347.9 184.2 L348.4 184.61 L348.9 185.02 L349.4 185.42 L349.9 185.81 L350.4 186.2 L350.9 186.57 L351.4 186.93 L351.9 187.28 L352.4 187.61 L352.9 187.94 L353.4 188.25 L353.9 188.56 L354.4 188.86 L354.9 189.15 L355.4 189.43 L355.9 189.71 L356.4 189.99 L356.9 190.26" fill="none" stroke="#1c1c1c" stroke-width="1.1" stroke-linejoin="round"/>
<path d="M197 221.6 H394.5" fill="none" stroke="#000" stroke-width="1.25"/>
<path d="M256 221.6 L256 216.03 L256.5 215.86 L257 215.7 L257.5 215.53 L258 215.36 L258.5 215.19 L259 215.01 L259.5 214.83 L260 214.64 L260.5 214.44 L261 214.23 L261.5 214.01 L262 213.78 L262.5 213.53 L263 213.27 L263.5 212.99 L264 212.69 L264.5 212.37 L265 212.02 L265.5 211.64 L266 211.24 L266.5 210.81 L267 210.35 L267.5 209.87 L268 209.37 L268.5 208.85 L269 208.31 L269.5 207.76 L270 207.19 L270.5 206.6 L271 206.01 L271.5 205.41 L272 204.81 L272.5 204.22 L273 203.62 L273.5 203.03 L274 202.45 L274.5 201.87 L275 201.29 L275.5 200.71 L276 200.13 L276.5 199.55 L277 198.96 L277.5 198.36 L278 197.76 L278.5 197.16 L279 196.57 L279.5 195.98 L280 195.41 L280.5 194.85 L281 194.31 L281.5 193.79 L282 193.29 L282.5 192.81 L283 192.35 L283.5 191.9 L284 191.46 L284.5 191.04 L285 190.63 L285.5 190.22 L286 189.83 L286.5 189.45 L287 189.08 L287.5 188.71 L288 188.35 L288.5 188 L289 187.65 L289.5 187.3 L290 186.97 L290.5 186.64 L291 186.32 L291.5 186.01 L292 185.72 L292.5 185.45 L293 185.2 L293.5 184.97 L294 184.75 L294.5 184.56 L295 184.38 L295.5 184.22 L296 184.07 L296.5 183.94 L297 183.82 L297.5 183.71 L298 183.62 L298.5 183.53 L299 183.45 L299.5 183.38 L300 183.32 L300.5 183.27 L301 183.23 L301.5 183.2 L302 183.18 L302.5 183.17 L303 183.18 L303.5 183.2 L304 183.22 L304.5 183.26 L305 183.3 L305.5 183.35 L306 183.41 L306.5 183.47 L307 183.53 L307.5 183.61 L308 183.69 L308.5 183.78 L309 183.89 L309.5 184.01 L310 184.16 L310.5 184.33 L311 184.53 L311.5 184.77 L312 185.05 L312.5 185.37 L313 185.73 L313.5 186.13 L314 186.58 L314.5 187.05 L315 187.54 L315.5 188.04 L316 188.55 L316.5 189.05 L317 189.55 L317.5 190.04 L318 190.54 L318.5 191.03 L319 191.52 L319.5 192.02 L320 192.51 L320.5 193.01 L321 193.5 L321.5 193.99 L322 194.47 L322.5 194.94 L323 195.4 L323.5 195.84 L324 196.28 L324.5 196.71 L325 197.13 L325.5 197.54 L326 197.94 L326.5 198.34 L327 198.72 L327.5 199.1 L328 199.47 L328.5 199.84 L329 200.21 L329.5 200.58 L330 200.94 L330.5 201.31 L331 201.68 L331.5 202.06 L332 202.44 L332.5 202.83 L333 203.22 L333.5 203.63 L334 204.06 L334.5 204.5 L335 204.95 L335.5 205.42 L336 205.9 L336.5 206.39 L337 206.88 L337.5 207.37 L338 207.86 L338.5 208.34 L339 208.82 L339.5 209.28 L340 209.72 L340.5 210.15 L341 210.56 L341.5 210.95 L342 211.32 L342.5 211.67 L343 212.01 L343.5 212.34 L344 212.65 L344.5 212.95 L345 213.25 L345.5 213.54 L346 213.82 L346.5 214.1 L347 214.37 L347 221.6 Z" fill="rgb(128,128,128)" fill-opacity="0.4" stroke="none"/>
<path d="M197 221.6 L197.5 221.6 L198 221.6 L198.5 221.6 L199 221.6 L199.5 221.6 L200 221.6 L200.5 221.6 L201 221.6 L201.5 221.6 L202 221.6 L202.5 221.6 L203 221.6 L203.5 221.59 L204 221.59 L204.5 221.59 L205 221.59 L205.5 221.59 L206 221.59 L206.5 221.59 L207 221.59 L207.5 221.59 L208 221.59 L208.5 221.58 L209 221.58 L209.5 221.58 L210 221.58 L210.5 221.58 L211 221.58 L211.5 221.57 L212 221.57 L212.5 221.57 L213 221.57 L213.5 221.57 L214 221.56 L214.5 221.56 L215 221.56 L215.5 221.56 L216 221.55 L216.5 221.55 L217 221.55 L217.5 221.55 L218 221.54 L218.5 221.54 L219 221.54 L219.5 221.54 L220 221.53 L220.5 221.53 L221 221.53 L221.5 221.52 L222 221.52 L222.5 221.52 L223 221.51 L223.5 221.51 L224 221.51 L224.5 221.5 L225 221.5 L225.5 221.49 L226 221.48 L226.5 221.47 L227 221.46 L227.5 221.45 L228 221.44 L228.5 221.42 L229 221.4 L229.5 221.38 L230 221.36 L230.5 221.34 L231 221.32 L231.5 221.29 L232 221.26 L232.5 221.23 L233 221.2 L233.5 221.17 L234 221.13 L234.5 221.1 L235 221.06 L235.5 221.02 L236 220.98 L236.5 220.94 L237 220.89 L237.5 220.84 L238 220.79 L238.5 220.73 L239 220.66 L239.5 220.59 L240 220.5 L240.5 220.4 L241 220.29 L241.5 220.17 L242 220.04 L242.5 219.9 L243 219.75 L243.5 219.6 L244 219.45 L244.5 219.3 L245 219.15 L245.5 219.01 L246 218.87 L246.5 218.73 L247 218.59 L247.5 218.46 L248 218.33 L248.5 218.2 L249 218.07 L249.5 217.94 L250 217.81 L250.5 217.67 L251 217.54 L251.5 217.4 L252 217.26 L252.5 217.11 L253 216.97 L253.5 216.82 L254 216.66 L254.5 216.51 L255 216.35 L255.5 216.19 L256 216.03 L256.5 215.86" fill="none" stroke="#111" stroke-width="1.1" stroke-linejoin="round"/>
<path d="M346.5 214.1 L347 214.37 L347.5 214.63 L348 214.89 L348.5 215.13 L349 215.37 L349.5 215.6 L350 215.83 L350.5 216.04 L351 216.25 L351.5 216.45 L352 216.65 L352.5 216.84 L353 217.02 L353.5 217.2 L354 217.38 L354.5 217.55 L355 217.72 L355.5 217.89 L356 218.05 L356.5 218.21 L357 218.36 L357.5 218.52 L358 218.66 L358.5 218.81 L359 218.94 L359.5 219.08 L360 219.2 L360.5 219.33 L361 219.45 L361.5 219.56 L362 219.67 L362.5 219.78 L363 219.89 L363.5 219.99 L364 220.09 L364.5 220.18 L365 220.27 L365.5 220.35 L366 220.43 L366.5 220.51 L367 220.59 L367.5 220.66 L368 220.72 L368.5 220.79 L369 220.85 L369.5 220.91 L370 220.97 L370.5 221.02 L371 221.07 L371.5 221.12 L372 221.16 L372.5 221.2 L373 221.24 L373.5 221.27 L374 221.3 L374.5 221.32 L375 221.35 L375.5 221.37 L376 221.39 L376.5 221.41 L377 221.43 L377.5 221.45 L378 221.46 L378.5 221.48 L379 221.49 L379.5 221.5 L380 221.52 L380.5 221.52 L381 221.53 L381.5 221.54 L382 221.55 L382.5 221.55 L383 221.56 L383.5 221.56 L384 221.56 L384.5 221.57 L385 221.57 L385.5 221.57 L386 221.58 L386.5 221.58 L387 221.58 L387.5 221.58 L388 221.58 L388.5 221.59 L389 221.59 L389.5 221.59 L390 221.59 L390.5 221.59 L391 221.59 L391.5 221.6 L392 221.6 L392.5 221.6 L393 221.6 L393.5 221.6 L394 221.6 L394.5 221.6" fill="none" stroke="#111" stroke-width="1.1" stroke-linejoin="round"/>
<path d="M255.5 216.19 L256 216.03 L256.5 215.86 L257 215.7 L257.5 215.53 L258 215.36 L258.5 215.19 L259 215.01 L259.5 214.83 L260 214.64 L260.5 214.44 L261 214.23 L261.5 214.01 L262 213.78 L262.5 213.53 L263 213.27 L263.5 212.99 L264 212.69 L264.5 212.37 L265 212.02 L265.5 211.64 L266 211.24 L266.5 210.81 L267 210.35 L267.5 209.87 L268 209.37 L268.5 208.85 L269 208.31 L269.5 207.76 L270 207.19 L270.5 206.6 L271 206.01 L271.5 205.41 L272 204.81 L272.5 204.22 L273 203.62 L273.5 203.03 L274 202.45 L274.5 201.87 L275 201.29 L275.5 200.71 L276 200.13 L276.5 199.55 L277 198.96 L277.5 198.36 L278 197.76 L278.5 197.16 L279 196.57 L279.5 195.98 L280 195.41 L280.5 194.85 L281 194.31 L281.5 193.79 L282 193.29 L282.5 192.81 L283 192.35 L283.5 191.9 L284 191.46 L284.5 191.04 L285 190.63 L285.5 190.22 L286 189.83 L286.5 189.45 L287 189.08 L287.5 188.71 L288 188.35 L288.5 188 L289 187.65 L289.5 187.3 L290 186.97 L290.5 186.64 L291 186.32 L291.5 186.01 L292 185.72 L292.5 185.45 L293 185.2 L293.5 184.97 L294 184.75 L294.5 184.56 L295 184.38 L295.5 184.22 L296 184.07 L296.5 183.94 L297 183.82 L297.5 183.71 L298 183.62 L298.5 183.53 L299 183.45 L299.5 183.38 L300 183.32 L300.5 183.27 L301 183.23 L301.5 183.2 L302 183.18 L302.5 183.17 L303 183.18 L303.5 183.2 L304 183.22 L304.5 183.26 L305 183.3 L305.5 183.35 L306 183.41 L306.5 183.47 L307 183.53 L307.5 183.61 L308 183.69 L308.5 183.78 L309 183.89 L309.5 184.01 L310 184.16 L310.5 184.33 L311 184.53 L311.5 184.77 L312 185.05 L312.5 185.37 L313 185.73 L313.5 186.13 L314 186.58 L314.5 187.05 L315 187.54 L315.5 188.04 L316 188.55 L316.5 189.05 L317 189.55 L317.5 190.04 L318 190.54 L318.5 191.03 L319 191.52 L319.5 192.02 L320 192.51 L320.5 193.01 L321 193.5 L321.5 193.99 L322 194.47 L322.5 194.94 L323 195.4 L323.5 195.84 L324 196.28 L324.5 196.71 L325 197.13 L325.5 197.54 L326 197.94 L326.5 198.34 L327 198.72 L327.5 199.1 L328 199.47 L328.5 199.84 L329 200.21 L329.5 200.58 L330 200.94 L330.5 201.31 L331 201.68 L331.5 202.06 L332 202.44 L332.5 202.83 L333 203.22 L333.5 203.63 L334 204.06 L334.5 204.5 L335 204.95 L335.5 205.42 L336 205.9 L336.5 206.39 L337 206.88 L337.5 207.37 L338 207.86 L338.5 208.34 L339 208.82 L339.5 209.28 L340 209.72 L340.5 210.15 L341 210.56 L341.5 210.95 L342 211.32 L342.5 211.67 L343 212.01 L343.5 212.34 L344 212.65 L344.5 212.95 L345 213.25 L345.5 213.54 L346 213.82 L346.5 214.1 L347 214.37 L347.5 214.63" fill="none" stroke="#1c1c1c" stroke-width="1.1" stroke-linejoin="round"/>
<path d="M253.2 247.6 H425.2" fill="none" stroke="#000" stroke-width="1.25"/>
<path d="M285.2 247.6 L285.2 240.55 L285.7 240.3 L286.2 240.05 L286.7 239.79 L287.2 239.53 L287.7 239.26 L288.2 238.99 L288.7 238.72 L289.2 238.44 L289.7 238.15 L290.2 237.86 L290.7 237.56 L291.2 237.26 L291.7 236.95 L292.2 236.63 L292.7 236.31 L293.2 235.98 L293.7 235.65 L294.2 235.3 L294.7 234.96 L295.2 234.6 L295.7 234.24 L296.2 233.86 L296.7 233.48 L297.2 233.1 L297.7 232.7 L298.2 232.29 L298.7 231.88 L299.2 231.45 L299.7 231.02 L300.2 230.57 L300.7 230.11 L301.2 229.64 L301.7 229.16 L302.2 228.67 L302.7 228.17 L303.2 227.65 L303.7 227.13 L304.2 226.59 L304.7 226.04 L305.2 225.49 L305.7 224.92 L306.2 224.35 L306.7 223.78 L307.2 223.2 L307.7 222.63 L308.2 222.05 L308.7 221.48 L309.2 220.91 L309.7 220.35 L310.2 219.81 L310.7 219.27 L311.2 218.75 L311.7 218.25 L312.2 217.76 L312.7 217.3 L313.2 216.84 L313.7 216.41 L314.2 216 L314.7 215.6 L315.2 215.22 L315.7 214.85 L316.2 214.5 L316.7 214.17 L317.2 213.84 L317.7 213.53 L318.2 213.22 L318.7 212.93 L319.2 212.64 L319.7 212.36 L320.2 212.09 L320.7 211.83 L321.2 211.58 L321.7 211.33 L322.2 211.1 L322.7 210.87 L323.2 210.65 L323.7 210.45 L324.2 210.25 L324.7 210.07 L325.2 209.91 L325.7 209.75 L326.2 209.61 L326.7 209.49 L327.2 209.38 L327.7 209.29 L328.2 209.22 L328.7 209.16 L329.2 209.13 L329.7 209.11 L330.2 209.1 L330.7 209.12 L331.2 209.16 L331.7 209.21 L332.2 209.28 L332.7 209.37 L333.2 209.48 L333.7 209.61 L334.2 209.75 L334.7 209.92 L335.2 210.1 L335.7 210.29 L336.2 210.51 L336.7 210.74 L337.2 210.99 L337.7 211.25 L338.2 211.53 L338.7 211.83 L339.2 212.14 L339.7 212.46 L340.2 212.8 L340.7 213.15 L341.2 213.52 L341.7 213.9 L342.2 214.29 L342.7 214.69 L343.2 215.1 L343.7 215.53 L344.2 215.96 L344.7 216.4 L345.2 216.85 L345.7 217.31 L346.2 217.78 L346.7 218.26 L347.2 218.74 L347.7 219.22 L348.2 219.72 L348.7 220.21 L349.2 220.72 L349.7 221.22 L350.2 221.73 L350.7 222.24 L351.2 222.76 L351.7 223.27 L352.2 223.79 L352.7 224.3 L353.2 224.82 L353.7 225.33 L354.2 225.85 L354.7 226.36 L355.2 226.87 L355.7 227.38 L356.2 227.89 L356.7 228.39 L357.2 228.89 L357.7 229.38 L358.2 229.87 L358.7 230.36 L359.2 230.83 L359.7 231.31 L360.2 231.78 L360.7 232.24 L361.2 232.69 L361.7 233.13 L362.2 233.57 L362.7 234 L363.2 234.42 L363.7 234.83 L364.2 235.23 L364.7 235.62 L365.2 236 L365.7 236.37 L366.2 236.73 L366.7 237.08 L367.2 237.41 L367.7 237.74 L368.2 238.05 L368.7 238.34 L369.2 238.63 L369.7 238.9 L370.2 239.17 L370.7 239.42 L371.2 239.66 L371.7 239.89 L372.2 240.12 L372.7 240.33 L373.2 240.54 L373.7 240.75 L374.2 240.95 L374.7 241.14 L375.2 241.34 L375.7 241.53 L375.7 247.6 Z" fill="rgb(128,128,128)" fill-opacity="0.4" stroke="none"/>
<path d="M253.2 247.46 L253.7 247.45 L254.2 247.44 L254.7 247.42 L255.2 247.41 L255.7 247.39 L256.2 247.37 L256.7 247.35 L257.2 247.33 L257.7 247.31 L258.2 247.29 L258.7 247.26 L259.2 247.23 L259.7 247.2 L260.2 247.17 L260.7 247.14 L261.2 247.1 L261.7 247.06 L262.2 247.02 L262.7 246.97 L263.2 246.93 L263.7 246.87 L264.2 246.82 L264.7 246.76 L265.2 246.7 L265.7 246.64 L266.2 246.57 L266.7 246.5 L267.2 246.42 L267.7 246.34 L268.2 246.25 L268.7 246.16 L269.2 246.07 L269.7 245.97 L270.2 245.87 L270.7 245.76 L271.2 245.65 L271.7 245.53 L272.2 245.41 L272.7 245.28 L273.2 245.15 L273.7 245.01 L274.2 244.87 L274.7 244.72 L275.2 244.57 L275.7 244.42 L276.2 244.25 L276.7 244.09 L277.2 243.92 L277.7 243.74 L278.2 243.56 L278.7 243.37 L279.2 243.18 L279.7 242.99 L280.2 242.79 L280.7 242.58 L281.2 242.38 L281.7 242.16 L282.2 241.95 L282.7 241.72 L283.2 241.5 L283.7 241.27 L284.2 241.03 L284.7 240.79 L285.2 240.55" fill="none" stroke="#111" stroke-width="1.1" stroke-linejoin="round"/>
<path d="M375.7 241.53 L376.2 241.73 L376.7 241.92 L377.2 242.12 L377.7 242.31 L378.2 242.51 L378.7 242.71 L379.2 242.91 L379.7 243.12 L380.2 243.32 L380.7 243.52 L381.2 243.72 L381.7 243.92 L382.2 244.12 L382.7 244.31 L383.2 244.5 L383.7 244.68 L384.2 244.86 L384.7 245.03 L385.2 245.19 L385.7 245.34 L386.2 245.49 L386.7 245.63 L387.2 245.76 L387.7 245.89 L388.2 246 L388.7 246.11 L389.2 246.21 L389.7 246.3 L390.2 246.39 L390.7 246.47 L391.2 246.55 L391.7 246.62 L392.2 246.68 L392.7 246.74 L393.2 246.8 L393.7 246.85 L394.2 246.9 L394.7 246.94 L395.2 246.99 L395.7 247.03 L396.2 247.06 L396.7 247.1 L397.2 247.13 L397.7 247.16 L398.2 247.19 L398.7 247.22 L399.2 247.24 L399.7 247.27 L400.2 247.29 L400.7 247.31 L401.2 247.33 L401.7 247.35 L402.2 247.36 L402.7 247.38 L403.2 247.39 L403.7 247.41 L404.2 247.42 L404.7 247.43 L405.2 247.45 L405.7 247.46 L406.2 247.47 L406.7 247.48 L407.2 247.49 L407.7 247.49 L408.2 247.5 L408.7 247.51 L409.2 247.52 L409.7 247.52 L410.2 247.53 L410.7 247.53 L411.2 247.54 L411.7 247.54 L412.2 247.55 L412.7 247.55 L413.2 247.56 L413.7 247.56 L414.2 247.56 L414.7 247.57 L415.2 247.57 L415.7 247.57 L416.2 247.57 L416.7 247.58 L417.2 247.58 L417.7 247.58 L418.2 247.58 L418.7 247.58 L419.2 247.58 L419.7 247.59 L420.2 247.59 L420.7 247.59 L421.2 247.59 L421.7 247.59 L422.2 247.59 L422.7 247.59 L423.2 247.59 L423.7 247.59 L424.2 247.59 L424.7 247.59 L425.2 247.59" fill="none" stroke="#111" stroke-width="1.1" stroke-linejoin="round"/>
<path d="M284.7 240.79 L285.2 240.55 L285.7 240.3 L286.2 240.05 L286.7 239.79 L287.2 239.53 L287.7 239.26 L288.2 238.99 L288.7 238.72 L289.2 238.44 L289.7 238.15 L290.2 237.86 L290.7 237.56 L291.2 237.26 L291.7 236.95 L292.2 236.63 L292.7 236.31 L293.2 235.98 L293.7 235.65 L294.2 235.3 L294.7 234.96 L295.2 234.6 L295.7 234.24 L296.2 233.86 L296.7 233.48 L297.2 233.1 L297.7 232.7 L298.2 232.29 L298.7 231.88 L299.2 231.45 L299.7 231.02 L300.2 230.57 L300.7 230.11 L301.2 229.64 L301.7 229.16 L302.2 228.67 L302.7 228.17 L303.2 227.65 L303.7 227.13 L304.2 226.59 L304.7 226.04 L305.2 225.49 L305.7 224.92 L306.2 224.35 L306.7 223.78 L307.2 223.2 L307.7 222.63 L308.2 222.05 L308.7 221.48 L309.2 220.91 L309.7 220.35 L310.2 219.81 L310.7 219.27 L311.2 218.75 L311.7 218.25 L312.2 217.76 L312.7 217.3 L313.2 216.84 L313.7 216.41 L314.2 216 L314.7 215.6 L315.2 215.22 L315.7 214.85 L316.2 214.5 L316.7 214.17 L317.2 213.84 L317.7 213.53 L318.2 213.22 L318.7 212.93 L319.2 212.64 L319.7 212.36 L320.2 212.09 L320.7 211.83 L321.2 211.58 L321.7 211.33 L322.2 211.1 L322.7 210.87 L323.2 210.65 L323.7 210.45 L324.2 210.25 L324.7 210.07 L325.2 209.91 L325.7 209.75 L326.2 209.61 L326.7 209.49 L327.2 209.38 L327.7 209.29 L328.2 209.22 L328.7 209.16 L329.2 209.13 L329.7 209.11 L330.2 209.1 L330.7 209.12 L331.2 209.16 L331.7 209.21 L332.2 209.28 L332.7 209.37 L333.2 209.48 L333.7 209.61 L334.2 209.75 L334.7 209.92 L335.2 210.1 L335.7 210.29 L336.2 210.51 L336.7 210.74 L337.2 210.99 L337.7 211.25 L338.2 211.53 L338.7 211.83 L339.2 212.14 L339.7 212.46 L340.2 212.8 L340.7 213.15 L341.2 213.52 L341.7 213.9 L342.2 214.29 L342.7 214.69 L343.2 215.1 L343.7 215.53 L344.2 215.96 L344.7 216.4 L345.2 216.85 L345.7 217.31 L346.2 217.78 L346.7 218.26 L347.2 218.74 L347.7 219.22 L348.2 219.72 L348.7 220.21 L349.2 220.72 L349.7 221.22 L350.2 221.73 L350.7 222.24 L351.2 222.76 L351.7 223.27 L352.2 223.79 L352.7 224.3 L353.2 224.82 L353.7 225.33 L354.2 225.85 L354.7 226.36 L355.2 226.87 L355.7 227.38 L356.2 227.89 L356.7 228.39 L357.2 228.89 L357.7 229.38 L358.2 229.87 L358.7 230.36 L359.2 230.83 L359.7 231.31 L360.2 231.78 L360.7 232.24 L361.2 232.69 L361.7 233.13 L362.2 233.57 L362.7 234 L363.2 234.42 L363.7 234.83 L364.2 235.23 L364.7 235.62 L365.2 236 L365.7 236.37 L366.2 236.73 L366.7 237.08 L367.2 237.41 L367.7 237.74 L368.2 238.05 L368.7 238.34 L369.2 238.63 L369.7 238.9 L370.2 239.17 L370.7 239.42 L371.2 239.66 L371.7 239.89 L372.2 240.12 L372.7 240.33 L373.2 240.54 L373.7 240.75 L374.2 240.95 L374.7 241.14 L375.2 241.34 L375.7 241.53 L376.2 241.73" fill="none" stroke="#1c1c1c" stroke-width="1.1" stroke-linejoin="round"/>
<path d="M245.8 273.9 H316.3" fill="none" stroke="#000" stroke-width="1.25"/>
<path d="M262.8 273.9 L262.8 266.92 L263.3 266.2 L263.8 265.43 L264.3 264.62 L264.8 263.75 L265.3 262.83 L265.8 261.87 L266.3 260.86 L266.8 259.8 L267.3 258.71 L267.8 257.57 L268.3 256.41 L268.8 255.21 L269.3 253.99 L269.8 252.75 L270.3 251.49 L270.8 250.24 L271.3 248.98 L271.8 247.73 L272.3 246.5 L272.8 245.3 L273.3 244.12 L273.8 242.99 L274.3 241.91 L274.8 240.89 L275.3 239.93 L275.8 239.04 L276.3 238.24 L276.8 237.52 L277.3 236.89 L277.8 236.37 L278.3 235.94 L278.8 235.62 L279.3 235.41 L279.8 235.31 L280.3 235.32 L280.8 235.44 L281.3 235.68 L281.8 236.02 L282.3 236.46 L282.8 237.01 L283.3 237.66 L283.8 238.39 L284.3 239.21 L284.8 240.11 L285.3 241.09 L285.8 242.12 L286.3 243.21 L286.8 244.35 L287.3 245.53 L287.8 246.75 L288.3 247.98 L288.8 249.23 L289.3 250.49 L289.8 251.75 L290.3 253 L290.8 254.23 L291.3 255.45 L291.8 256.64 L292.3 257.8 L292.8 258.93 L293.3 260.02 L293.8 261.06 L294.3 262.06 L294.8 263.02 L295.3 263.93 L295.8 264.78 L296.3 265.59 L296.8 266.35 L297.3 267.06 L297.8 267.72 L297.8 273.9 Z" fill="rgb(206,22,10)" fill-opacity="0.4" stroke="none"/>
<path d="M245.8 273.86 L246.3 273.85 L246.8 273.83 L247.3 273.82 L247.8 273.8 L248.3 273.78 L248.8 273.76 L249.3 273.73 L249.8 273.7 L250.3 273.66 L250.8 273.62 L251.3 273.57 L251.8 273.51 L252.3 273.44 L252.8 273.36 L253.3 273.27 L253.8 273.17 L254.3 273.05 L254.8 272.92 L255.3 272.77 L255.8 272.59 L256.3 272.4 L256.8 272.18 L257.3 271.94 L257.8 271.67 L258.3 271.36 L258.8 271.03 L259.3 270.66 L259.8 270.25 L260.3 269.81 L260.8 269.32 L261.3 268.79 L261.8 268.21 L262.3 267.59 L262.8 266.92" fill="none" stroke="#111" stroke-width="1.1" stroke-linejoin="round"/>
<path d="M297.8 267.72 L298.3 268.33 L298.8 268.9 L299.3 269.42 L299.8 269.9 L300.3 270.34 L300.8 270.73 L301.3 271.1 L301.8 271.43 L302.3 271.72 L302.8 271.99 L303.3 272.23 L303.8 272.44 L304.3 272.63 L304.8 272.8 L305.3 272.95 L305.8 273.08 L306.3 273.19 L306.8 273.29 L307.3 273.38 L307.8 273.46 L308.3 273.52 L308.8 273.58 L309.3 273.63 L309.8 273.67 L310.3 273.71 L310.8 273.74 L311.3 273.77 L311.8 273.79 L312.3 273.81 L312.8 273.82 L313.3 273.84 L313.8 273.85 L314.3 273.86 L314.8 273.86 L315.3 273.87 L315.8 273.88 L316.3 273.88" fill="none" stroke="#111" stroke-width="1.1" stroke-linejoin="round"/>
<path d="M262.3 267.59 L262.8 266.92 L263.3 266.2 L263.8 265.43 L264.3 264.62 L264.8 263.75 L265.3 262.83 L265.8 261.87 L266.3 260.86 L266.8 259.8 L267.3 258.71 L267.8 257.57 L268.3 256.41 L268.8 255.21 L269.3 253.99 L269.8 252.75 L270.3 251.49 L270.8 250.24 L271.3 248.98 L271.8 247.73 L272.3 246.5 L272.8 245.3 L273.3 244.12 L273.8 242.99 L274.3 241.91 L274.8 240.89 L275.3 239.93 L275.8 239.04 L276.3 238.24 L276.8 237.52 L277.3 236.89 L277.8 236.37 L278.3 235.94 L278.8 235.62 L279.3 235.41 L279.8 235.31 L280.3 235.32 L280.8 235.44 L281.3 235.68 L281.8 236.02 L282.3 236.46 L282.8 237.01 L283.3 237.66 L283.8 238.39 L284.3 239.21 L284.8 240.11 L285.3 241.09 L285.8 242.12 L286.3 243.21 L286.8 244.35 L287.3 245.53 L287.8 246.75 L288.3 247.98 L288.8 249.23 L289.3 250.49 L289.8 251.75 L290.3 253 L290.8 254.23 L291.3 255.45 L291.8 256.64 L292.3 257.8 L292.8 258.93 L293.3 260.02 L293.8 261.06 L294.3 262.06 L294.8 263.02 L295.3 263.93 L295.8 264.78 L296.3 265.59 L296.8 266.35 L297.3 267.06 L297.8 267.72 L298.3 268.33" fill="none" stroke="#4a0f0c" stroke-width="1.1" stroke-linejoin="round"/>
<line x1="300.4" y1="34.8" x2="300.4" y2="297" stroke="#ff1a1a" stroke-width="1.15" stroke-dasharray="3.4 1"/>
<line x1="185.2" y1="297.5" x2="436.9" y2="297.5" stroke="#333" stroke-width="1.2"/>
<line x1="219.6" y1="297.5" x2="219.6" y2="302.8" stroke="#333" stroke-width="1.2"/>
<text transform="translate(209.87 314.3) scale(1.0123 1)" font-size="9.58" fill="#111" >-0.4</text>
<line x1="260.02" y1="297.5" x2="260.02" y2="302.8" stroke="#333" stroke-width="1.2"/>
<text transform="translate(251.07 314.3) scale(1.0125 1)" font-size="9.58" fill="#111" >-0.2</text>
<line x1="300.44" y1="297.5" x2="300.44" y2="302.8" stroke="#333" stroke-width="1.2"/>
<text transform="translate(296.98 314.3) scale(1.1138 1)" font-size="9.58" fill="#111" >0</text>
<line x1="340.86" y1="297.5" x2="340.86" y2="302.8" stroke="#333" stroke-width="1.2"/>
<text transform="translate(333.52 314.3) scale(1.0271 1)" font-size="9.58" fill="#111" >0.2</text>
<line x1="381.28" y1="297.5" x2="381.28" y2="302.8" stroke="#333" stroke-width="1.2"/>
<text transform="translate(374.24 314.3) scale(0.9713 1)" font-size="9.58" fill="#111" >0.4</text>
<line x1="421.7" y1="297.5" x2="421.7" y2="302.8" stroke="#333" stroke-width="1.2"/>
<text transform="translate(414.61 314.3) scale(1.0384 1)" font-size="9.58" fill="#111" >0.6</text>
<text transform="translate(223.3 335) scale(0.9726 1)" font-size="12.36" fill="#111" >coefficient (posterior density)</text>
<path d="M262.6 276.2 V280.6 M297.6 280.6 V275.2" fill="none" stroke="#2a2a2a" stroke-width="1.2"/>
<path d="M262.6 280.6 H297.6" fill="none" stroke="#2a2a2a" stroke-width="1.25" stroke-dasharray="2.5 0.95"/>
<text transform="translate(261.58 291.8) scale(0.9697 1)" font-size="9.17" fill="#111" >95 % HDI</text>
<text transform="translate(435.2 18.2) scale(1.0695 1)" font-size="20.2" fill="#000" >b</text>
<text transform="translate(447.5 18.2) scale(0.8220 1)" font-size="20.2" fill="#000" >)</text>
<text transform="translate(435.11 237) scale(1.0543 1)" font-size="20.2" fill="#000" >c</text>
<text transform="translate(446.6 237) scale(0.8593 1)" font-size="20.2" fill="#000" >)</text>
<text transform="translate(474.16 39.7) scale(0.9945 1)" font-size="9.68" fill="#000" ><tspan fill="#c322d6">rpe</tspan> DDM</text>
<line x1="472.2" y1="43.4" x2="577.6" y2="43.4" stroke="#444" stroke-width="1.1"/>
<line x1="473.8" y1="77.3" x2="577" y2="77.3" stroke="#4f6cf2" stroke-width="1"/>
<text transform="translate(466.32 79.7) scale(1.2385 1)" font-size="9.48" fill="#4f6cf2" >z</text>
<line x1="473.8" y1="81.8" x2="485.2" y2="81.8" stroke="#ff8d5e" stroke-width="1.4"/>
<text transform="translate(477.25 92.1) scale(1.0490 1)" font-size="9.68" fill="#ff8d5e" >t</text>
<text transform="translate(489.76 55.3) scale(0.9623 1)" font-size="10.09" fill="#000" >v~<tspan fill="#c322d6">rpe</tspan></text>
<text transform="translate(534.87 71) scale(0.8187 1)" font-size="9.68" fill="#777" >v</text>
<polyline points="484.1,77.4 484.97,76.37 485.83,75.49 486.7,74.1 487.6,72.66 488.5,71.8 489.35,71.67 490.2,71.5 491.1,72.2 492,71.8 492.9,72.05 493.8,71.2 494.95,69.78 496.1,69.4 497.3,67.84 498.5,67.1 499.65,65.57 500.8,65.3 501.7,65.22 502.6,65.3 503.75,64.04 504.9,64.1 505.8,63.44 506.7,62.9 507.6,62.56 508.5,61.8 509.47,61.29 510.43,61.65 511.4,61.2 512.6,61.63 513.8,61.8 514.77,61.13 515.73,61.88 516.7,61.8 517.67,61.66 518.63,62.08 519.6,62.4 520.8,62.95 522,64.1 522.9,65.12 523.8,65.6 524.95,65.97 526.1,66.5 527.3,66.42 528.5,67.3 529.35,66.76 530.2,66.1 531.4,65.69 532.6,64.5 533.75,63.43 534.9,62.9 536.1,61.36 537.3,60.6 538.2,58.94 539.1,57.6 539.95,57.36 540.8,55.9 542,56.57 543.2,55.9 544.2,55.77 545.2,55.73 546.2,54.8 547.13,55.05 548.07,54.16 549,54.1 550.03,53.33 551.07,53.91 552.1,53.5 553.15,52.33 554.2,51 555.07,50.24 555.93,49.48 556.8,49.3 557.9,50.17 559,51.3 560.1,51.26 561.2,51.3 562.33,49.94 563.47,48.94 564.6,48.2 565.58,47.17 566.55,46.75 567.52,45.4 568.5,44.3 569.6,44.23 570.7,44.46 571.8,45 572.7,44.44 573.6,43.59 574.5,43.5 575.4,43.05 576.3,43.45 577.2,43.4" fill="none" stroke="#8a8a8a" stroke-width="0.95" stroke-linejoin="round"/>
<polyline points="484.1,77.4 484.97,76.19 485.83,76.01 486.7,74.7 487.6,73.48 488.5,72.9 489.6,73.5 490.5,73.41 491.4,72.4 492.3,72.54 493.2,72.7 494.05,72.07 494.9,71.2 495.8,71.19 496.7,70.6 497.6,70.12 498.5,69.6 499.6,70 500.5,68.88 501.4,68.2 502.3,67.56 503.2,67.6 504.05,66.29 504.9,65.9 505.8,65.26 506.7,64.1 507.6,62.89 508.5,61.8 509.35,61.12 510.2,61.2 511.4,60.9 512.6,59.67 513.8,57.6 514.95,55.6 516.1,54.1 517.3,52.86 518.5,51.8 519.65,50.48 520.8,49.6 521.7,49.94 522.6,50 523.5,50.69 524.4,51.2 525.55,50.91 526.7,50.4 527.6,49.74 528.5,49.6 529.35,48.66 530.2,48.2 531.4,47.3 532.6,45.3 533.8,44.1 534.65,44.43 535.5,45.3 536.4,44.81 537.3,44.7 538.45,43.66 539.6,43.4" fill="none" stroke="#c322d6" stroke-width="1.1" stroke-linejoin="round"/>
<line x1="577.4" y1="44.5" x2="577.4" y2="109" stroke="#ffc022" stroke-width="1.3"/>
<path d="M575.6 47.4 L577.4 43.6 L579.2 47.4 Z" fill="#ffc022"/>
<path d="M575.6 107 L577.4 110.8 L579.2 107 Z" fill="#ffc022"/>
<text transform="translate(569.49 64.7) scale(0.9259 1)" font-size="10.51" fill="#ffc022" >a</text>
<text transform="translate(581.08 39.9) scale(0.9793 1)" font-size="9.68" fill="#000" ><tspan fill="#198241">pm</tspan> DDM</text>
<line x1="580.3" y1="43.4" x2="682.3" y2="43.4" stroke="#444" stroke-width="1.1"/>
<line x1="581.2" y1="77.3" x2="682" y2="77.3" stroke="#4f6cf2" stroke-width="1"/>
<line x1="580.8" y1="81.8" x2="592.6" y2="81.8" stroke="#ff8d5e" stroke-width="1.4"/>
<text transform="translate(597.96 54.5) scale(0.9565 1)" font-size="10.09" fill="#000" >v~<tspan fill="#198241">pm</tspan></text>
<polyline points="591.1,77.4 591.97,76.37 592.83,75.49 593.7,74.1 594.6,72.66 595.5,71.8 596.35,71.67 597.2,71.5 598.1,72.2 599,71.8 599.9,72.05 600.8,71.2 601.95,69.78 603.1,69.4 604.3,67.84 605.5,67.1 606.65,65.57 607.8,65.3 608.7,65.22 609.6,65.3 610.75,64.04 611.9,64.1 612.8,63.44 613.7,62.9 614.6,62.56 615.5,61.8 616.47,61.29 617.43,61.65 618.4,61.2 619.6,61.63 620.8,61.8 621.77,61.13 622.73,61.88 623.7,61.8 624.67,61.66 625.63,62.08 626.6,62.4 627.8,62.95 629,64.1 629.9,65.12 630.8,65.6 631.95,65.97 633.1,66.5 634.3,66.42 635.5,67.3 636.35,66.76 637.2,66.1 638.4,65.69 639.6,64.5 640.75,63.43 641.9,62.9 643.1,61.36 644.3,60.6 645.2,58.94 646.1,57.6 646.95,57.36 647.8,55.9 649,56.57 650.2,55.9 651.2,55.77 652.2,55.73 653.2,54.8 654.13,55.05 655.07,54.16 656,54.1 657.03,53.33 658.07,53.91 659.1,53.5 660.15,52.33 661.2,51 662.07,50.24 662.93,49.48 663.8,49.3 664.9,50.17 666,51.3 667.1,51.26 668.2,51.3 669.33,49.94 670.47,48.94 671.6,48.2 672.58,47.17 673.55,46.75 674.52,45.4 675.5,44.3 676.6,44.23 677.7,44.46 678.8,45 679.7,44.44 680.6,43.59 681.5,43.5" fill="none" stroke="#8a8a8a" stroke-width="0.95" stroke-linejoin="round"/>
<polyline points="591.1,77.4 591.97,75.83 592.83,75.51 593.7,74.1 594.6,73.18 595.5,72.4 596.35,73.2 597.2,73.5 598.1,73.28 599,72 599.9,72.39 600.8,72.7 601.65,71.75 602.5,70.8 603.4,70.53 604.3,71.2 605.2,70.05 606.1,69.4 606.95,68.8 607.8,68.2 608.7,68.7 609.6,68.8 610.5,68.28 611.4,67.1 612.25,66.37 613.1,65.9 614,64.82 614.9,64.7 615.75,63.57 616.6,62.9 617.5,62.35 618.4,60.9 619.3,61.03 620.2,61.8 621.05,61.15 621.9,60.6 623.1,59.57 624.3,57.6 625.45,55.63 626.6,54.7 627.8,53.36 629,51.8 630.2,51.1 631.4,49.4 632.55,49.2 633.7,49.6 634.9,50.45 636.1,51.2 637.25,51.25 638.4,50.4 639.6,49.2 640.8,48.8 641.65,48.68 642.5,48.5 643.4,47.48 644.3,45.9 645.2,45.19 646.1,44.1 646.95,44.66 647.8,45.3 649,44.9 650.1,45.5 651.25,44.13 652.4,43.4" fill="none" stroke="#198241" stroke-width="1.05" stroke-linejoin="round"/>
<line x1="682.5" y1="44.5" x2="682.5" y2="109" stroke="#ffc022" stroke-width="1.3"/>
<path d="M680.7 47.4 L682.5 43.6 L684.3 47.4 Z" fill="#ffc022"/>
<path d="M680.7 107 L682.5 110.8 L684.3 107 Z" fill="#ffc022"/>
<line x1="472.6" y1="111.5" x2="577.7" y2="111.5" stroke="#333" stroke-width="1.1"/>
<line x1="473.7" y1="111.5" x2="473.7" y2="113.6" stroke="#333" stroke-width="1"/>
<line x1="495.9" y1="111.5" x2="495.9" y2="113.6" stroke="#333" stroke-width="1"/>
<line x1="517.8" y1="111.5" x2="517.8" y2="113.6" stroke="#333" stroke-width="1"/>
<line x1="539.7" y1="111.5" x2="539.7" y2="113.6" stroke="#333" stroke-width="1"/>
<line x1="561.6" y1="111.5" x2="561.6" y2="113.6" stroke="#333" stroke-width="1"/>
<line x1="580.4" y1="111.5" x2="682.5" y2="111.5" stroke="#333" stroke-width="1.1"/>
<line x1="581.4" y1="111.5" x2="581.4" y2="113.6" stroke="#333" stroke-width="1"/>
<line x1="603.1" y1="111.5" x2="603.1" y2="113.6" stroke="#333" stroke-width="1"/>
<line x1="625.1" y1="111.5" x2="625.1" y2="113.6" stroke="#333" stroke-width="1"/>
<line x1="647.2" y1="111.5" x2="647.2" y2="113.6" stroke="#333" stroke-width="1"/>
<line x1="669" y1="111.5" x2="669" y2="113.6" stroke="#333" stroke-width="1"/>
<text transform="translate(466.31 124.5) scale(0.9889 1)" font-size="9.48" fill="#222" >cue</text>
<line x1="584.3" y1="135.6" x2="584.3" y2="188.5" stroke="#808080" stroke-width="1" stroke-dasharray="3 1.5"/>
<line x1="495.8" y1="140.2" x2="672.6" y2="140.2" stroke="#222" stroke-width="1.1"/>
<line x1="485.3" y1="171.6" x2="661.6" y2="171.6" stroke="#444" stroke-width="1.1"/>
<line x1="565.4" y1="163.4" x2="581.2" y2="163.4" stroke="#999" stroke-width="1.1"/>
<path d="M573.4 160.1 L576.5 165.3 L570.3 165.3 Z" fill="#8a8a8a"/>
<circle cx="584.1" cy="140.2" r="2.0" fill="#fff" stroke="#111" stroke-width="1.2"/>
<circle cx="573.4" cy="171.6" r="2.0" fill="#fff" stroke="#111" stroke-width="1.2"/>
<text transform="translate(634.08 135.9) scale(0.9554 1)" font-size="9.89" fill="#000" ><tspan fill="#c322d6">rpe</tspan> DDM</text>
<text transform="translate(629.89 167.2) scale(0.9455 1)" font-size="9.89" fill="#000" ><tspan fill="#198241">pm</tspan> DDM</text>
<line x1="475.6" y1="188.9" x2="682.1" y2="188.9" stroke="#333" stroke-width="1.1"/>
<line x1="497.6" y1="188.9" x2="497.6" y2="191" stroke="#333" stroke-width="1"/>
<line x1="521.61" y1="188.9" x2="521.61" y2="191" stroke="#333" stroke-width="1"/>
<line x1="545.62" y1="188.9" x2="545.62" y2="191" stroke="#333" stroke-width="1"/>
<line x1="569.63" y1="188.9" x2="569.63" y2="191" stroke="#333" stroke-width="1"/>
<line x1="593.64" y1="188.9" x2="593.64" y2="191" stroke="#333" stroke-width="1"/>
<line x1="617.65" y1="188.9" x2="617.65" y2="191" stroke="#333" stroke-width="1"/>
<line x1="641.66" y1="188.9" x2="641.66" y2="191" stroke="#333" stroke-width="1"/>
<line x1="665.67" y1="188.9" x2="665.67" y2="191" stroke="#333" stroke-width="1"/>
<text transform="translate(484.45 200) scale(0.9423 1)" font-size="8.45" fill="#222" >-16375</text>
<text transform="translate(532.25 200) scale(0.9541 1)" font-size="8.45" fill="#222" >-16325</text>
<text transform="translate(580.55 200) scale(0.9541 1)" font-size="8.45" fill="#222" >-16275</text>
<text transform="translate(628.75 200) scale(0.9384 1)" font-size="8.45" fill="#222" >-16225</text>
<text transform="translate(553.89 213.9) scale(0.9493 1)" font-size="10.2" fill="#222" >elpd waic (log)</text>
<line x1="485" y1="297" x2="673" y2="297" stroke="#ccc" stroke-width="1.2"/>
<path d="M485.2 295.4 H672.7" fill="none" stroke="#000" stroke-width="1.25"/>
<path d="M534.2 295.4 L534.2 289.53 L534.7 289.28 L535.2 289.02 L535.7 288.76 L536.2 288.48 L536.7 288.2 L537.2 287.91 L537.7 287.61 L538.2 287.3 L538.7 286.98 L539.2 286.66 L539.7 286.32 L540.2 285.98 L540.7 285.63 L541.2 285.26 L541.7 284.89 L542.2 284.51 L542.7 284.12 L543.2 283.72 L543.7 283.31 L544.2 282.89 L544.7 282.46 L545.2 282.01 L545.7 281.56 L546.2 281.1 L546.7 280.63 L547.2 280.15 L547.7 279.65 L548.2 279.15 L548.7 278.63 L549.2 278.1 L549.7 277.56 L550.2 277.01 L550.7 276.45 L551.2 275.87 L551.7 275.28 L552.2 274.68 L552.7 274.06 L553.2 273.43 L553.7 272.79 L554.2 272.13 L554.7 271.46 L555.2 270.78 L555.7 270.08 L556.2 269.37 L556.7 268.65 L557.2 267.93 L557.7 267.19 L558.2 266.44 L558.7 265.69 L559.2 264.94 L559.7 264.18 L560.2 263.42 L560.7 262.66 L561.2 261.91 L561.7 261.17 L562.2 260.43 L562.7 259.71 L563.2 259.01 L563.7 258.33 L564.2 257.66 L564.7 257.02 L565.2 256.41 L565.7 255.83 L566.2 255.27 L566.7 254.75 L567.2 254.27 L567.7 253.82 L568.2 253.41 L568.7 253.03 L569.2 252.69 L569.7 252.39 L570.2 252.13 L570.7 251.9 L571.2 251.71 L571.7 251.56 L572.2 251.44 L572.7 251.34 L573.2 251.28 L573.7 251.25 L574.2 251.25 L574.7 251.27 L575.2 251.32 L575.7 251.39 L576.2 251.48 L576.7 251.59 L577.2 251.72 L577.7 251.86 L578.2 252.03 L578.7 252.21 L579.2 252.41 L579.7 252.62 L580.2 252.84 L580.7 253.08 L581.2 253.34 L581.7 253.6 L582.2 253.88 L582.7 254.16 L583.2 254.45 L583.7 254.74 L584.2 255.04 L584.7 255.34 L585.2 255.65 L585.7 255.96 L586.2 256.29 L586.7 256.63 L587.2 257 L587.7 257.4 L588.2 257.83 L588.7 258.3 L589.2 258.81 L589.7 259.37 L590.2 259.96 L590.7 260.58 L591.2 261.23 L591.7 261.9 L592.2 262.57 L592.7 263.25 L593.2 263.93 L593.7 264.61 L594.2 265.28 L594.7 265.94 L595.2 266.6 L595.7 267.26 L596.2 267.92 L596.7 268.57 L597.2 269.22 L597.7 269.87 L598.2 270.52 L598.7 271.17 L599.2 271.82 L599.7 272.46 L600.2 273.1 L600.7 273.74 L601.2 274.38 L601.7 275.01 L602.2 275.63 L602.7 276.25 L603.2 276.86 L603.7 277.46 L604.2 278.06 L604.7 278.64 L605.2 279.22 L605.7 279.79 L606.2 280.35 L606.7 280.9 L607.2 281.44 L607.7 281.96 L608.2 282.48 L608.7 282.99 L609.2 283.48 L609.7 283.96 L610.2 284.43 L610.7 284.89 L611.2 285.34 L611.7 285.77 L612.2 286.19 L612.7 286.6 L613.2 286.99 L613.7 287.38 L614.2 287.75 L614.7 288.11 L615.2 288.46 L615.2 295.4 Z" fill="rgb(206,22,10)" fill-opacity="0.4" stroke="none"/>
<path d="M485.2 295.39 L485.7 295.39 L486.2 295.39 L486.7 295.39 L487.2 295.38 L487.7 295.38 L488.2 295.38 L488.7 295.38 L489.2 295.38 L489.7 295.38 L490.2 295.37 L490.7 295.37 L491.2 295.37 L491.7 295.37 L492.2 295.36 L492.7 295.36 L493.2 295.36 L493.7 295.35 L494.2 295.35 L494.7 295.35 L495.2 295.34 L495.7 295.34 L496.2 295.33 L496.7 295.33 L497.2 295.32 L497.7 295.32 L498.2 295.31 L498.7 295.3 L499.2 295.29 L499.7 295.29 L500.2 295.28 L500.7 295.27 L501.2 295.26 L501.7 295.25 L502.2 295.24 L502.7 295.22 L503.2 295.21 L503.7 295.2 L504.2 295.18 L504.7 295.17 L505.2 295.15 L505.7 295.13 L506.2 295.11 L506.7 295.09 L507.2 295.07 L507.7 295.05 L508.2 295.03 L508.7 295 L509.2 294.98 L509.7 294.95 L510.2 294.92 L510.7 294.89 L511.2 294.85 L511.7 294.82 L512.2 294.78 L512.7 294.74 L513.2 294.7 L513.7 294.66 L514.2 294.61 L514.7 294.57 L515.2 294.52 L515.7 294.46 L516.2 294.41 L516.7 294.35 L517.2 294.29 L517.7 294.22 L518.2 294.16 L518.7 294.09 L519.2 294.01 L519.7 293.94 L520.2 293.85 L520.7 293.77 L521.2 293.68 L521.7 293.59 L522.2 293.49 L522.7 293.39 L523.2 293.28 L523.7 293.17 L524.2 293.06 L524.7 292.94 L525.2 292.81 L525.7 292.68 L526.2 292.55 L526.7 292.41 L527.2 292.26 L527.7 292.11 L528.2 291.95 L528.7 291.78 L529.2 291.61 L529.7 291.44 L530.2 291.25 L530.7 291.06 L531.2 290.87 L531.7 290.66 L532.2 290.45 L532.7 290.23 L533.2 290 L533.7 289.77 L534.2 289.53" fill="none" stroke="#111" stroke-width="1.1" stroke-linejoin="round"/>
<path d="M614.7 288.11 L615.2 288.46 L615.7 288.79 L616.2 289.12 L616.7 289.43 L617.2 289.73 L617.7 290.02 L618.2 290.29 L618.7 290.56 L619.2 290.82 L619.7 291.06 L620.2 291.3 L620.7 291.52 L621.2 291.74 L621.7 291.94 L622.2 292.14 L622.7 292.33 L623.2 292.51 L623.7 292.68 L624.2 292.84 L624.7 292.99 L625.2 293.14 L625.7 293.28 L626.2 293.41 L626.7 293.53 L627.2 293.65 L627.7 293.76 L628.2 293.87 L628.7 293.97 L629.2 294.06 L629.7 294.15 L630.2 294.24 L630.7 294.32 L631.2 294.39 L631.7 294.46 L632.2 294.53 L632.7 294.59 L633.2 294.64 L633.7 294.7 L634.2 294.75 L634.7 294.8 L635.2 294.84 L635.7 294.88 L636.2 294.92 L636.7 294.96 L637.2 294.99 L637.7 295.02 L638.2 295.05 L638.7 295.08 L639.2 295.1 L639.7 295.13 L640.2 295.15 L640.7 295.17 L641.2 295.19 L641.7 295.21 L642.2 295.22 L642.7 295.24 L643.2 295.25 L643.7 295.26 L644.2 295.28 L644.7 295.29 L645.2 295.3 L645.7 295.3 L646.2 295.31 L646.7 295.32 L647.2 295.33 L647.7 295.33 L648.2 295.34 L648.7 295.35 L649.2 295.35 L649.7 295.36 L650.2 295.36 L650.7 295.36 L651.2 295.37 L651.7 295.37 L652.2 295.37 L652.7 295.38 L653.2 295.38 L653.7 295.38 L654.2 295.38 L654.7 295.38 L655.2 295.39 L655.7 295.39 L656.2 295.39 L656.7 295.39 L657.2 295.39 L657.7 295.39 L658.2 295.39 L658.7 295.39 L659.2 295.39 L659.7 295.39 L660.2 295.39 L660.7 295.4 L661.2 295.4 L661.7 295.4 L662.2 295.4 L662.7 295.4 L663.2 295.4 L663.7 295.4 L664.2 295.4 L664.7 295.4 L665.2 295.4 L665.7 295.4 L666.2 295.4 L666.7 295.4 L667.2 295.4 L667.7 295.4 L668.2 295.4 L668.7 295.4 L669.2 295.4 L669.7 295.4 L670.2 295.4 L670.7 295.4 L671.2 295.4 L671.7 295.4 L672.2 295.4 L672.7 295.4" fill="none" stroke="#111" stroke-width="1.1" stroke-linejoin="round"/>
<path d="M533.7 289.77 L534.2 289.53 L534.7 289.28 L535.2 289.02 L535.7 288.76 L536.2 288.48 L536.7 288.2 L537.2 287.91 L537.7 287.61 L538.2 287.3 L538.7 286.98 L539.2 286.66 L539.7 286.32 L540.2 285.98 L540.7 285.63 L541.2 285.26 L541.7 284.89 L542.2 284.51 L542.7 284.12 L543.2 283.72 L543.7 283.31 L544.2 282.89 L544.7 282.46 L545.2 282.01 L545.7 281.56 L546.2 281.1 L546.7 280.63 L547.2 280.15 L547.7 279.65 L548.2 279.15 L548.7 278.63 L549.2 278.1 L549.7 277.56 L550.2 277.01 L550.7 276.45 L551.2 275.87 L551.7 275.28 L552.2 274.68 L552.7 274.06 L553.2 273.43 L553.7 272.79 L554.2 272.13 L554.7 271.46 L555.2 270.78 L555.7 270.08 L556.2 269.37 L556.7 268.65 L557.2 267.93 L557.7 267.19 L558.2 266.44 L558.7 265.69 L559.2 264.94 L559.7 264.18 L560.2 263.42 L560.7 262.66 L561.2 261.91 L561.7 261.17 L562.2 260.43 L562.7 259.71 L563.2 259.01 L563.7 258.33 L564.2 257.66 L564.7 257.02 L565.2 256.41 L565.7 255.83 L566.2 255.27 L566.7 254.75 L567.2 254.27 L567.7 253.82 L568.2 253.41 L568.7 253.03 L569.2 252.69 L569.7 252.39 L570.2 252.13 L570.7 251.9 L571.2 251.71 L571.7 251.56 L572.2 251.44 L572.7 251.34 L573.2 251.28 L573.7 251.25 L574.2 251.25 L574.7 251.27 L575.2 251.32 L575.7 251.39 L576.2 251.48 L576.7 251.59 L577.2 251.72 L577.7 251.86 L578.2 252.03 L578.7 252.21 L579.2 252.41 L579.7 252.62 L580.2 252.84 L580.7 253.08 L581.2 253.34 L581.7 253.6 L582.2 253.88 L582.7 254.16 L583.2 254.45 L583.7 254.74 L584.2 255.04 L584.7 255.34 L585.2 255.65 L585.7 255.96 L586.2 256.29 L586.7 256.63 L587.2 257 L587.7 257.4 L588.2 257.83 L588.7 258.3 L589.2 258.81 L589.7 259.37 L590.2 259.96 L590.7 260.58 L591.2 261.23 L591.7 261.9 L592.2 262.57 L592.7 263.25 L593.2 263.93 L593.7 264.61 L594.2 265.28 L594.7 265.94 L595.2 266.6 L595.7 267.26 L596.2 267.92 L596.7 268.57 L597.2 269.22 L597.7 269.87 L598.2 270.52 L598.7 271.17 L599.2 271.82 L599.7 272.46 L600.2 273.1 L600.7 273.74 L601.2 274.38 L601.7 275.01 L602.2 275.63 L602.7 276.25 L603.2 276.86 L603.7 277.46 L604.2 278.06 L604.7 278.64 L605.2 279.22 L605.7 279.79 L606.2 280.35 L606.7 280.9 L607.2 281.44 L607.7 281.96 L608.2 282.48 L608.7 282.99 L609.2 283.48 L609.7 283.96 L610.2 284.43 L610.7 284.89 L611.2 285.34 L611.7 285.77 L612.2 286.19 L612.7 286.6 L613.2 286.99 L613.7 287.38 L614.2 287.75 L614.7 288.11 L615.2 288.46 L615.7 288.79" fill="none" stroke="#4a0f0c" stroke-width="1.1" stroke-linejoin="round"/>
<line x1="488.7" y1="246.9" x2="488.7" y2="295.5" stroke="#ff1a1a" stroke-width="1.15" stroke-dasharray="3.4 1"/>
<line x1="475.3" y1="298.3" x2="681.9" y2="298.3" stroke="#444" stroke-width="1.2"/>
<line x1="488.7" y1="298.3" x2="488.7" y2="301.6" stroke="#444" stroke-width="1.1"/>
<text transform="translate(485.38 312.9) scale(1.1510 1)" font-size="9.27" fill="#222" >0</text>
<line x1="525.9" y1="298.3" x2="525.9" y2="301.6" stroke="#444" stroke-width="1.1"/>
<text transform="translate(516.41 312.9) scale(1.0689 1)" font-size="9.27" fill="#222" >0.02</text>
<line x1="563.1" y1="298.3" x2="563.1" y2="301.6" stroke="#444" stroke-width="1.1"/>
<text transform="translate(553.03 312.9) scale(1.0225 1)" font-size="9.27" fill="#222" >0.04</text>
<line x1="600.3" y1="298.3" x2="600.3" y2="301.6" stroke="#444" stroke-width="1.1"/>
<text transform="translate(591.23 312.9) scale(1.0365 1)" font-size="9.27" fill="#222" >0.06</text>
<line x1="637.5" y1="298.3" x2="637.5" y2="301.6" stroke="#444" stroke-width="1.1"/>
<text transform="translate(627.73 312.9) scale(1.0359 1)" font-size="9.27" fill="#222" >0.08</text>
<line x1="674.7" y1="298.3" x2="674.7" y2="301.6" stroke="#444" stroke-width="1.1"/>
<text transform="translate(667.83 312.9) scale(1.0274 1)" font-size="9.27" fill="#222" >0.1</text>
<text transform="translate(571.15 243.5) scale(1.0322 1)" font-size="9.58" fill="#c322d6" >rpe</text>
<text transform="translate(481.41 335.7) scale(0.9743 1)" font-size="12.26" fill="#111" >weight on drift rate (posterior density)</text>
</svg>
</body></html>
